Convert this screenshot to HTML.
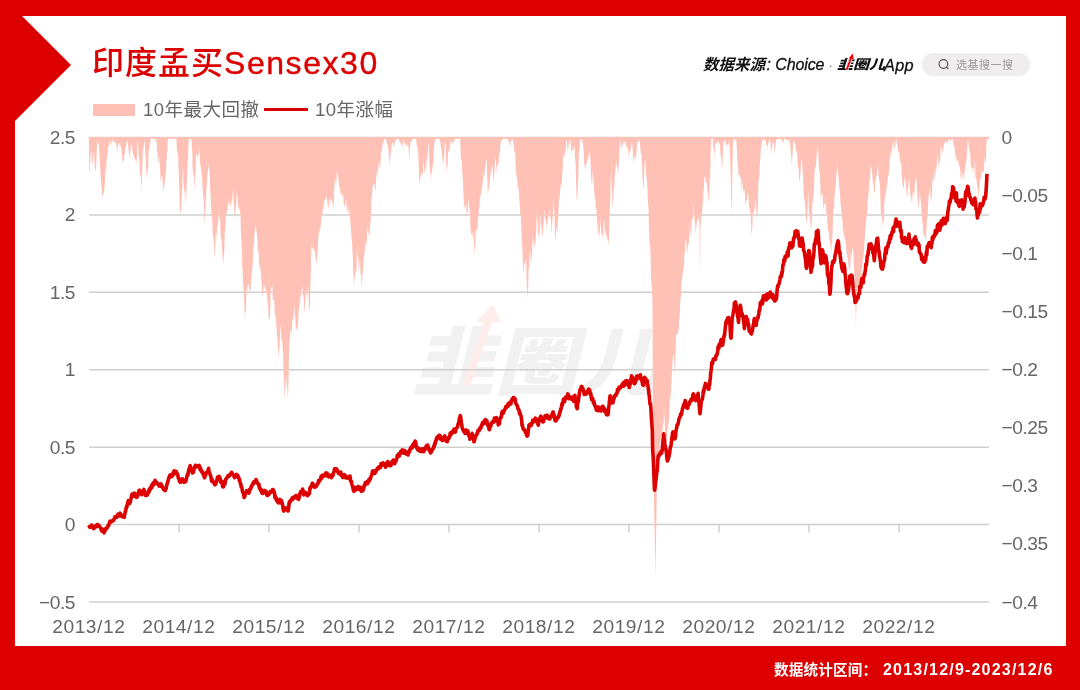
<!DOCTYPE html>
<html lang="zh">
<head>
<meta charset="utf-8">
<title>印度孟买Sensex30</title>
<style>
html,body{margin:0;padding:0;}
body{width:1080px;height:690px;background:#DC0000;position:relative;overflow:hidden;font-family:"Liberation Sans","Noto Sans CJK SC",sans-serif;}
.panel{position:absolute;left:15.2px;top:15.6px;width:1050.9px;height:630.9px;background:#fff;}
.tri{position:absolute;left:15px;top:9px;width:0;height:0;border-top:56px solid transparent;border-bottom:56px solid transparent;border-left:56px solid #DC0000;}
.title{position:absolute;left:92px;top:41px;font-size:32px;line-height:44px;color:#DC0000;white-space:nowrap;letter-spacing:1px;font-weight:500;}
.title span{letter-spacing:1.55px;-webkit-text-stroke:0.4px #DC0000;}
.legend{position:absolute;left:93px;top:97px;height:26px;line-height:26px;font-size:18.5px;color:#666;white-space:nowrap;letter-spacing:0.5px;}
.legend .sw{position:absolute;left:0;top:7px;width:42px;height:12px;background:#FFC0B6;}
.legend .t1{position:absolute;left:50px;top:0;}
.legend .ln{position:absolute;left:171px;top:11px;width:44px;height:3px;background:#DC0000;}
.legend .t2{position:absolute;left:222px;top:0;}
.src{position:absolute;left:703px;top:53px;height:24px;line-height:24px;font-size:15.5px;font-style:italic;color:#111;white-space:nowrap;}
.src span{position:absolute;top:0;}
.src .a{left:0;font-weight:bold;}
.src .b{left:63.5px;-webkit-text-stroke:0.3px #111;font-size:16px;letter-spacing:-0.1px;}
.src .c{left:125px;color:#888;}
.src .d{left:133.5px;font-weight:900;font-size:13px;transform:scale(1.23,1);transform-origin:0 70%;}
.src .e{left:181px;-webkit-text-stroke:0.3px #111;font-size:16.3px;letter-spacing:0.3px;}
.src svg{position:absolute;left:140px;top:-1px;}
.pill{position:absolute;left:922px;top:53.3px;width:107.8px;height:23.2px;border-radius:12px;background:#EFEDED;}
.pill .tx{position:absolute;left:34px;top:1.2px;line-height:23.2px;font-size:11px;color:#9a9a9a;white-space:nowrap;letter-spacing:0.5px;}
.pill svg{position:absolute;left:15px;top:4.5px;}
.foot{position:absolute;left:774px;top:658.6px;width:280px;height:22px;line-height:22px;font-weight:bold;color:#fff;white-space:nowrap;}
.foot .k{position:absolute;left:0;top:0;font-size:14.6px;letter-spacing:0.15px;}
.foot .n{position:absolute;right:0.5px;top:0;font-size:16px;letter-spacing:1.2px;}
svg.chart{position:absolute;left:0;top:0;}
.ax{font-family:"Liberation Sans",sans-serif;font-size:19.2px;fill:#666;letter-spacing:-0.5px;}
.axx{letter-spacing:0.55px;}
.wm{font-family:"Liberation Sans","Noto Sans CJK SC",sans-serif;font-weight:900;font-size:74px;fill:#F1F1F1;}
</style>
</head>
<body>
<div class="panel"></div>
<div class="tri"></div>
<div class="title">印度孟买<span>Sensex30</span></div>
<div class="legend"><span class="sw"></span><span class="t1">10年最大回撤</span><span class="ln"></span><span class="t2">10年涨幅</span></div>
<div class="src"><span class="a">数据来源</span><span class="b">: Choice</span><span class="c">·</span><span class="d">韭圈儿</span><span class="e">App</span><svg width="12" height="20" viewBox="0 0 12 20"><path d="M3.7 17.6 L8.4 5.2" stroke="#fff" stroke-width="3.4" fill="none"/><path d="M3.7 17.6 L8.3 5.5" stroke="#F0000A" stroke-width="1.9" fill="none"/><path d="M5.8 6.2 L9.7 1.6 L10.8 7.4 Z" fill="#F0000A"/></svg></div>
<div class="pill"><svg width="14" height="14" viewBox="0 0 14 14"><circle cx="6.4" cy="5.95" r="4.35" fill="none" stroke="#555" stroke-width="1.15"/><line x1="9.6" y1="9.2" x2="11" y2="10.6" stroke="#555" stroke-width="1.15" stroke-linecap="round"/></svg><span class="tx">选基搜一搜</span></div>
<svg class="chart" width="1080" height="690" viewBox="0 0 1080 690">
<g transform="translate(411,392.5) skewX(-14)"><text x="0" y="-4" class="wm" textLength="248" lengthAdjust="spacingAndGlyphs">韭圈儿</text></g>
<path d="M462 386 L470 386 L492 322 L500 322 L493 304 L476 322 L484 322 Z" fill="#FFEDEB"/>
<line x1="89" y1="137.5" x2="989" y2="137.5" stroke="#CFCFCF" stroke-width="1.5"/>
<line x1="89" y1="214.91666666666669" x2="989" y2="214.91666666666669" stroke="#CFCFCF" stroke-width="1.5"/>
<line x1="89" y1="292.33333333333337" x2="989" y2="292.33333333333337" stroke="#CFCFCF" stroke-width="1.5"/>
<line x1="89" y1="369.75" x2="989" y2="369.75" stroke="#CFCFCF" stroke-width="1.5"/>
<line x1="89" y1="447.1666666666667" x2="989" y2="447.1666666666667" stroke="#CFCFCF" stroke-width="1.5"/>
<line x1="89" y1="524.5833333333333" x2="989" y2="524.5833333333333" stroke="#CFCFCF" stroke-width="1.5"/>
<line x1="89" y1="602.0" x2="989" y2="602.0" stroke="#CFCFCF" stroke-width="1.5"/>
<line x1="179" y1="524.6" x2="179" y2="532.4" stroke="#CFCFCF" stroke-width="1.5"/>
<line x1="269" y1="524.6" x2="269" y2="532.4" stroke="#CFCFCF" stroke-width="1.5"/>
<line x1="359" y1="524.6" x2="359" y2="532.4" stroke="#CFCFCF" stroke-width="1.5"/>
<line x1="449" y1="524.6" x2="449" y2="532.4" stroke="#CFCFCF" stroke-width="1.5"/>
<line x1="539" y1="524.6" x2="539" y2="532.4" stroke="#CFCFCF" stroke-width="1.5"/>
<line x1="629" y1="524.6" x2="629" y2="532.4" stroke="#CFCFCF" stroke-width="1.5"/>
<line x1="719" y1="524.6" x2="719" y2="532.4" stroke="#CFCFCF" stroke-width="1.5"/>
<line x1="809" y1="524.6" x2="809" y2="532.4" stroke="#CFCFCF" stroke-width="1.5"/>
<line x1="899" y1="524.6" x2="899" y2="532.4" stroke="#CFCFCF" stroke-width="1.5"/>

<path d="M89.0,137.0 L88.8,137.0 L88.8,137.0 L89.3,167.3 L89.5,172.5 L89.9,172.3 L90.5,157.9 L91.1,147.0 L91.2,152.5 L91.7,156.2 L92.3,163.7 L92.5,162.5 L92.9,165.3 L93.5,150.1 L93.8,155.0 L94.1,152.0 L94.7,167.1 L95.3,171.1 L95.5,170.0 L95.9,170.2 L96.5,157.4 L97.0,145.0 L97.1,144.3 L97.7,142.3 L98.3,144.9 L98.8,140.0 L98.9,143.6 L99.5,153.7 L100.0,167.5 L100.1,163.7 L100.7,177.4 L101.3,185.1 L101.9,190.2 L102.5,198.8 L102.5,198.1 L103.1,195.2 L103.7,192.8 L104.3,190.4 L104.9,181.4 L105.0,180.0 L105.5,166.1 L106.1,173.2 L106.7,157.2 L107.3,158.0 L107.5,157.5 L107.9,146.2 L108.5,148.3 L109.1,141.4 L109.5,140.0 L109.7,140.6 L110.3,146.2 L110.9,142.0 L111.2,142.5 L111.5,143.4 L112.1,139.0 L112.5,140.0 L112.7,139.9 L113.3,141.8 L113.9,141.3 L114.5,142.7 L115.0,142.5 L115.1,143.1 L115.7,141.7 L116.3,147.7 L116.9,144.4 L117.0,147.5 L117.5,151.9 L118.1,142.9 L118.7,143.8 L118.8,142.5 L119.3,143.7 L119.9,147.6 L120.5,144.1 L121.1,151.0 L121.2,147.5 L121.7,149.9 L122.3,160.4 L122.9,160.8 L123.5,162.0 L123.8,162.5 L124.1,154.6 L124.7,156.3 L125.3,148.1 L125.5,145.0 L125.9,147.9 L126.5,141.7 L127.1,141.6 L127.5,140.0 L127.7,142.8 L128.3,147.3 L128.9,151.9 L129.5,156.3 L130.0,158.8 L130.1,154.4 L130.7,146.7 L131.3,144.9 L131.8,142.5 L131.9,144.9 L132.5,151.6 L133.1,153.9 L133.7,157.8 L133.8,152.5 L134.3,158.2 L134.9,159.6 L135.5,158.8 L136.1,163.6 L136.2,160.0 L136.7,163.2 L137.3,146.2 L137.9,139.7 L138.0,140.0 L138.5,155.0 L139.1,157.1 L139.7,169.1 L140.3,176.9 L140.9,175.2 L141.2,185.0 L141.5,191.2 L142.1,175.9 L142.7,155.9 L143.0,150.0 L143.3,150.5 L143.9,144.0 L144.5,140.0 L144.5,139.5 L145.1,148.9 L145.7,160.0 L146.3,172.4 L146.9,179.1 L147.0,176.2 L147.5,169.7 L148.1,168.6 L148.7,150.6 L149.3,149.7 L149.5,145.0 L149.9,145.9 L150.5,140.8 L151.1,137.8 L151.2,138.8 L151.7,138.2 L152.3,138.9 L152.9,139.1 L153.5,139.7 L154.1,138.1 L154.7,138.8 L155.0,138.8 L155.3,141.1 L155.9,142.7 L156.5,138.3 L157.1,151.7 L157.5,150.0 L157.7,163.3 L158.3,161.0 L158.9,155.6 L159.5,162.3 L160.0,167.5 L160.1,169.2 L160.7,182.9 L161.3,176.0 L161.9,175.9 L162.5,177.5 L162.5,185.6 L163.1,180.7 L163.7,193.8 L164.3,184.5 L164.5,188.8 L164.9,179.6 L165.5,176.6 L166.1,171.1 L166.2,162.5 L166.7,159.3 L167.3,149.6 L167.9,138.3 L168.0,140.0 L168.5,139.0 L169.1,138.8 L169.7,138.5 L170.0,138.8 L170.3,139.1 L170.9,138.5 L171.5,139.2 L172.1,138.8 L172.7,138.5 L173.3,138.8 L173.9,139.0 L174.5,139.3 L175.1,138.5 L175.7,138.6 L176.2,138.8 L176.3,138.3 L176.9,148.4 L177.5,155.2 L178.0,152.5 L178.1,156.3 L178.7,173.5 L179.3,188.5 L179.9,214.3 L180.0,215.0 L180.5,209.8 L181.1,213.0 L181.7,196.5 L182.0,192.5 L182.3,183.0 L182.9,165.1 L183.2,172.5 L183.5,185.1 L184.1,190.2 L184.7,192.3 L185.0,205.0 L185.3,201.1 L185.9,183.9 L186.5,201.1 L187.0,177.5 L187.1,179.9 L187.7,164.3 L188.3,147.8 L188.8,140.0 L188.9,137.7 L189.5,139.5 L190.1,138.0 L190.7,139.4 L191.2,138.8 L191.3,137.8 L191.9,145.3 L192.5,157.5 L192.5,164.4 L193.1,176.3 L193.7,171.9 L194.3,179.9 L194.5,190.0 L194.9,185.4 L195.5,173.3 L196.1,152.1 L196.2,155.0 L196.7,153.7 L197.3,156.2 L197.9,156.3 L198.0,162.5 L198.5,152.7 L199.1,154.5 L199.5,145.0 L199.7,151.4 L200.3,167.4 L200.9,165.3 L201.2,170.0 L201.5,173.6 L202.1,177.9 L202.7,190.8 L203.0,195.0 L203.3,194.9 L203.9,203.5 L204.5,222.5 L204.5,225.0 L205.1,216.7 L205.7,201.7 L206.2,187.5 L206.3,193.3 L206.9,182.5 L207.5,172.2 L208.1,170.8 L208.7,163.1 L208.8,165.0 L209.3,170.6 L209.9,178.8 L210.5,197.5 L210.5,190.8 L211.1,206.4 L211.7,215.4 L212.3,220.6 L212.5,225.0 L212.9,237.3 L213.5,238.0 L214.1,246.9 L214.7,257.0 L215.0,253.8 L215.3,245.5 L215.9,232.6 L216.5,239.1 L217.0,230.0 L217.1,224.8 L217.7,228.0 L218.3,216.3 L218.8,210.0 L218.9,217.3 L219.5,223.0 L220.1,215.6 L220.5,230.0 L220.7,237.0 L221.3,238.1 L221.9,245.8 L222.5,255.5 L223.0,263.8 L223.1,265.4 L223.7,257.4 L224.3,249.4 L224.9,227.4 L225.0,235.0 L225.5,225.9 L226.1,210.2 L226.7,214.8 L227.0,212.5 L227.3,213.4 L227.9,203.0 L228.5,204.4 L229.1,200.8 L229.5,197.5 L229.7,205.5 L230.3,203.6 L230.8,212.5 L230.9,206.0 L231.5,199.4 L232.1,204.9 L232.7,194.6 L233.0,186.2 L233.3,191.5 L233.9,203.4 L234.5,213.0 L235.0,220.0 L235.1,219.1 L235.7,209.6 L236.3,201.5 L236.9,189.3 L237.0,195.0 L237.5,194.9 L238.1,209.8 L238.7,207.7 L238.8,205.0 L239.3,208.8 L239.9,210.8 L240.5,215.0 L240.5,216.7 L241.1,234.6 L241.7,246.1 L242.3,266.9 L242.5,270.0 L242.9,280.2 L243.5,287.3 L243.8,295.0 L244.1,299.9 L244.7,312.0 L245.0,322.5 L245.3,311.9 L245.9,312.7 L246.5,287.4 L247.0,292.5 L247.1,290.5 L247.7,286.2 L248.3,283.6 L248.8,285.0 L248.9,286.0 L249.5,292.6 L250.1,288.9 L250.7,289.3 L250.8,290.0 L251.3,278.4 L251.9,272.2 L252.5,265.0 L252.5,268.9 L253.1,254.7 L253.7,243.2 L254.2,242.5 L254.3,235.4 L254.9,231.2 L255.5,224.8 L256.1,232.3 L256.2,226.0 L256.7,233.4 L257.3,237.1 L257.5,240.0 L257.9,253.3 L258.5,250.7 L259.0,260.0 L259.1,265.0 L259.7,270.3 L260.3,263.5 L260.5,272.5 L260.9,269.2 L261.2,280.0 L261.5,278.7 L262.1,294.4 L262.5,293.8 L262.7,299.1 L263.3,283.9 L263.9,292.6 L264.5,285.0 L264.5,283.4 L265.1,286.7 L265.7,289.4 L266.2,295.0 L266.3,294.3 L266.9,292.2 L267.5,301.7 L268.1,305.9 L268.7,320.0 L268.8,317.5 L269.3,321.1 L269.9,317.4 L270.5,297.5 L270.5,295.6 L271.1,285.6 L271.7,289.2 L272.3,283.6 L272.5,287.5 L272.9,301.4 L273.5,299.5 L274.1,298.3 L274.5,305.0 L274.7,312.5 L275.3,317.4 L275.9,313.4 L276.2,325.0 L276.5,326.2 L277.1,335.5 L277.7,344.6 L278.3,353.0 L278.8,357.5 L278.9,352.8 L279.5,346.4 L280.1,333.6 L280.7,323.0 L280.8,327.5 L281.3,340.2 L281.9,339.6 L282.5,342.5 L282.5,346.1 L283.1,352.8 L283.7,376.8 L284.3,398.6 L284.5,398.8 L284.9,386.2 L285.5,390.0 L286.1,374.4 L286.2,375.0 L286.7,383.4 L287.3,388.5 L287.9,397.9 L288.0,397.5 L288.5,381.5 L289.1,349.5 L289.5,337.5 L289.7,344.6 L290.3,331.0 L290.9,328.5 L291.5,334.9 L292.0,330.0 L292.1,323.0 L292.7,319.6 L293.3,319.1 L293.8,310.0 L293.9,316.9 L294.5,304.6 L295.1,318.5 L295.5,317.5 L295.7,328.8 L296.3,329.8 L296.9,327.2 L297.5,332.5 L297.6,328.8 L298.2,322.1 L298.8,309.5 L299.4,305.7 L299.5,305.0 L300.0,300.2 L300.6,295.3 L301.2,296.8 L301.2,290.0 L301.8,290.3 L302.4,285.9 L303.0,300.1 L303.0,295.0 L303.6,296.5 L304.2,307.1 L304.5,313.8 L304.8,310.0 L305.4,301.7 L306.0,291.1 L306.2,292.5 L306.6,290.4 L307.2,300.8 L307.8,285.2 L308.0,287.5 L308.4,292.4 L309.0,308.2 L309.5,311.2 L309.6,313.4 L310.2,294.8 L310.5,280.0 L310.8,276.0 L311.2,255.0 L311.4,244.7 L312.0,247.2 L312.6,249.1 L313.2,248.0 L313.8,242.5 L313.8,249.0 L314.4,250.2 L315.0,252.1 L315.6,258.9 L316.2,263.0 L316.2,265.0 L316.8,260.2 L317.4,255.2 L318.0,242.9 L318.6,233.3 L318.8,235.0 L319.2,227.5 L319.8,232.5 L320.4,228.6 L321.0,222.4 L321.2,215.0 L321.6,218.1 L322.2,215.6 L322.8,209.0 L323.4,209.9 L323.8,205.0 L324.0,199.1 L324.6,201.6 L325.2,197.1 L325.8,202.6 L326.2,197.5 L326.4,194.9 L327.0,199.1 L327.6,203.4 L328.2,210.0 L328.8,205.0 L328.8,201.0 L329.4,199.1 L330.0,206.7 L330.6,195.9 L331.2,202.5 L331.2,200.0 L331.8,200.0 L332.4,205.8 L333.0,200.6 L333.0,210.0 L333.6,205.3 L334.2,190.2 L334.8,179.3 L335.0,180.0 L335.4,186.9 L336.0,174.1 L336.2,167.5 L336.6,186.5 L337.2,174.0 L337.8,173.3 L338.4,178.5 L338.8,180.0 L339.0,189.2 L339.6,184.7 L340.2,190.7 L340.8,194.6 L341.2,195.0 L341.4,190.7 L342.0,197.5 L342.6,196.0 L343.2,193.8 L343.8,206.0 L344.4,206.6 L345.0,205.2 L345.0,205.0 L345.6,202.1 L346.2,198.4 L346.8,212.7 L347.4,211.6 L347.5,212.5 L348.0,205.0 L348.6,214.3 L349.2,208.2 L349.8,216.9 L350.0,217.5 L350.4,222.6 L351.0,231.1 L351.6,238.0 L352.0,242.5 L352.2,247.2 L352.8,256.1 L353.4,275.3 L353.8,287.5 L354.0,282.9 L354.6,278.3 L355.2,274.9 L355.5,270.0 L355.8,271.2 L356.4,271.8 L357.0,246.3 L357.5,255.0 L357.6,257.2 L358.2,256.4 L358.8,271.1 L359.4,266.6 L359.5,262.5 L360.0,258.5 L360.6,274.5 L361.2,275.6 L361.8,288.8 L362.0,286.2 L362.4,275.2 L363.0,270.1 L363.6,260.1 L363.8,257.5 L364.2,254.7 L364.8,248.9 L365.4,239.2 L365.5,247.5 L366.0,245.9 L366.6,243.3 L367.2,232.7 L367.5,230.0 L367.8,225.5 L368.4,233.1 L369.0,236.5 L369.5,235.0 L369.6,233.3 L370.2,223.8 L370.8,220.6 L371.2,205.0 L371.4,198.5 L372.0,196.2 L372.6,184.3 L373.0,190.0 L373.2,186.3 L373.8,185.4 L374.4,183.5 L375.0,184.1 L375.0,187.5 L375.6,191.7 L376.2,176.5 L376.8,171.6 L377.0,170.0 L377.4,180.7 L378.0,169.0 L378.6,160.2 L378.8,168.8 L379.2,169.3 L379.8,160.5 L380.4,171.2 L380.5,162.5 L381.0,152.9 L381.6,151.7 L382.2,142.6 L382.5,147.5 L382.8,146.7 L383.4,141.3 L384.0,141.1 L384.5,138.8 L384.6,138.5 L385.2,138.7 L385.8,140.5 L386.2,140.0 L386.4,141.8 L387.0,144.2 L387.6,144.1 L388.0,150.0 L388.2,145.4 L388.8,154.3 L389.4,167.4 L390.0,155.5 L390.5,160.0 L390.6,155.6 L391.2,150.8 L391.8,144.3 L392.4,141.4 L392.5,142.5 L393.0,142.6 L393.6,147.3 L394.2,144.6 L394.5,145.0 L394.8,143.0 L395.4,139.4 L396.0,141.2 L396.2,140.0 L396.6,139.8 L397.2,138.4 L397.8,138.4 L398.4,138.9 L398.8,138.8 L399.0,140.1 L399.6,141.6 L400.2,142.6 L400.8,143.0 L401.2,145.0 L401.4,145.7 L402.0,143.9 L402.6,147.7 L403.2,140.1 L403.8,141.2 L403.8,140.7 L404.4,144.0 L405.0,141.9 L405.6,146.1 L406.2,143.5 L406.2,143.8 L406.8,146.2 L407.4,146.7 L408.0,143.9 L408.6,148.1 L408.8,153.8 L409.2,161.9 L409.8,148.8 L410.4,143.5 L410.5,141.2 L411.0,141.9 L411.6,140.5 L412.2,140.0 L412.5,138.8 L412.8,138.6 L413.4,138.6 L414.0,139.4 L414.6,138.5 L415.2,137.9 L415.5,138.8 L415.8,139.6 L416.4,141.4 L417.0,146.9 L417.5,147.5 L417.6,145.4 L418.2,153.6 L418.8,167.7 L419.4,187.6 L419.5,182.5 L420.0,179.7 L420.6,177.3 L421.2,173.1 L421.2,172.5 L421.8,172.5 L422.4,174.0 L423.0,174.6 L423.0,167.5 L423.6,159.6 L424.2,175.0 L424.8,168.6 L425.0,168.8 L425.4,164.7 L426.0,174.2 L426.6,157.2 L427.0,155.0 L427.2,163.8 L427.8,154.7 L428.4,142.9 L428.8,143.8 L429.0,150.3 L429.6,165.7 L430.2,175.1 L430.5,183.8 L430.8,170.1 L431.4,175.1 L432.0,171.0 L432.5,167.5 L432.6,161.3 L433.2,168.5 L433.8,150.7 L434.4,143.3 L434.5,142.5 L435.0,141.1 L435.6,139.3 L436.2,138.4 L436.2,138.8 L436.8,138.8 L437.4,138.9 L438.0,138.4 L438.6,138.7 L439.2,137.9 L439.5,138.8 L439.8,141.0 L440.4,142.3 L441.0,148.9 L441.2,150.0 L441.6,148.0 L442.2,155.1 L442.8,163.9 L443.0,165.0 L443.4,154.6 L444.0,165.5 L444.6,145.5 L445.0,140.0 L445.2,142.0 L445.8,147.2 L446.4,167.4 L447.0,175.0 L447.0,168.8 L447.6,165.1 L448.2,151.2 L448.8,152.5 L448.8,150.0 L449.4,151.7 L450.0,144.1 L450.5,142.5 L450.6,140.2 L451.2,140.6 L451.8,142.1 L452.4,144.9 L452.5,145.0 L453.0,142.1 L453.6,141.7 L454.2,142.7 L454.5,138.8 L454.8,139.9 L455.4,138.1 L456.0,139.0 L456.6,138.8 L457.2,138.7 L457.8,139.4 L458.4,138.5 L459.0,138.5 L459.6,138.5 L460.0,138.8 L460.2,140.8 L460.8,155.3 L461.4,162.0 L462.0,160.1 L462.0,167.5 L462.6,176.3 L463.2,186.5 L463.8,202.5 L463.8,206.6 L464.4,205.3 L465.0,210.4 L465.5,207.5 L465.6,207.5 L466.2,201.7 L466.8,217.0 L467.0,216.2 L467.4,214.1 L468.0,210.0 L468.6,195.3 L468.8,200.0 L469.2,206.7 L469.8,212.3 L470.4,221.7 L470.5,227.5 L471.0,232.1 L471.6,235.8 L472.2,233.4 L472.5,240.0 L472.8,232.8 L473.4,232.4 L474.0,245.3 L474.5,251.2 L474.6,256.4 L475.2,244.9 L475.8,228.4 L476.2,235.0 L476.4,229.5 L477.0,229.1 L477.6,228.5 L478.0,215.0 L478.2,219.7 L478.8,211.2 L479.4,205.9 L480.0,195.1 L480.0,200.0 L480.6,195.0 L481.2,192.6 L481.8,187.4 L482.0,190.0 L482.4,186.8 L483.0,178.5 L483.6,176.2 L483.8,172.5 L484.2,177.7 L484.8,171.2 L485.4,166.6 L486.0,160.3 L486.2,160.0 L486.6,158.4 L487.2,177.4 L487.8,192.7 L488.0,195.0 L488.4,186.9 L489.0,193.0 L489.6,179.8 L490.0,177.5 L490.2,178.6 L490.8,172.1 L491.4,164.5 L492.0,178.1 L492.0,167.5 L492.6,165.6 L493.2,180.3 L493.8,180.0 L493.8,177.2 L494.4,173.7 L495.0,160.5 L495.5,157.5 L495.6,155.7 L496.2,165.4 L496.8,173.5 L497.4,162.5 L497.5,167.5 L498.0,164.2 L498.6,164.4 L499.2,152.0 L499.5,152.5 L499.8,154.2 L500.4,143.8 L501.0,143.3 L501.2,140.0 L501.6,140.2 L502.2,140.4 L502.8,139.2 L503.0,138.8 L503.4,138.0 L504.0,139.2 L504.6,138.1 L505.0,138.8 L505.2,139.2 L505.8,139.7 L506.4,139.1 L507.0,138.4 L507.5,138.8 L507.6,139.7 L508.2,141.0 L508.8,140.1 L509.4,143.6 L509.5,145.0 L510.0,147.4 L510.6,141.8 L511.2,141.0 L511.8,139.1 L512.0,138.8 L512.4,138.2 L513.0,141.2 L513.6,145.2 L513.8,145.0 L514.2,149.9 L514.8,154.1 L515.4,150.3 L515.5,162.5 L516.0,172.5 L516.6,175.3 L517.2,182.1 L517.5,180.0 L517.8,189.3 L518.4,187.1 L519.0,192.9 L519.6,204.1 L520.0,207.5 L520.2,218.5 L520.8,212.2 L521.4,230.0 L522.0,238.0 L522.0,242.5 L522.6,254.7 L523.2,269.5 L523.8,272.5 L523.8,271.0 L524.4,262.5 L525.0,265.2 L525.6,259.8 L525.8,260.0 L526.2,261.1 L526.8,286.6 L527.4,292.8 L527.5,298.8 L528.0,292.3 L528.6,269.2 L529.2,268.1 L529.5,255.0 L529.8,248.5 L530.4,262.7 L531.0,250.1 L531.2,260.0 L531.6,263.5 L532.2,247.8 L532.8,235.1 L533.0,240.0 L533.4,240.6 L534.0,246.4 L534.6,242.8 L535.0,250.0 L535.2,245.1 L535.8,239.2 L536.4,227.2 L537.0,203.0 L537.0,217.5 L537.6,221.6 L538.2,232.8 L538.8,237.5 L538.8,239.0 L539.4,234.0 L540.0,216.9 L540.5,212.5 L540.6,225.8 L541.2,223.8 L541.8,228.1 L542.4,238.7 L542.5,235.0 L543.0,234.1 L543.6,222.4 L544.2,211.3 L544.5,210.0 L544.8,218.0 L545.4,221.8 L546.0,217.1 L546.2,230.0 L546.6,222.3 L547.2,225.9 L547.8,219.8 L548.0,217.5 L548.4,217.1 L549.0,216.0 L549.6,210.5 L550.0,207.5 L550.2,218.2 L550.8,218.3 L551.4,230.3 L551.5,235.0 L552.0,227.6 L552.6,217.7 L553.2,205.9 L553.5,195.0 L553.8,208.1 L554.4,211.7 L555.0,233.5 L555.5,240.0 L555.6,241.9 L556.2,229.1 L556.8,228.4 L557.4,234.2 L557.5,222.5 L558.0,221.9 L558.6,209.7 L559.2,194.0 L559.5,202.5 L559.8,195.6 L560.4,188.1 L561.0,184.2 L561.2,180.0 L561.6,188.6 L562.2,174.7 L562.8,166.6 L563.0,162.5 L563.4,156.7 L564.0,153.4 L564.5,157.5 L564.6,156.0 L565.2,148.7 L565.8,153.6 L566.2,140.0 L566.4,140.1 L567.0,142.5 L567.6,151.6 L568.0,150.0 L568.2,149.6 L568.8,142.2 L569.4,146.1 L570.0,139.9 L570.0,140.0 L570.6,140.4 L571.2,148.4 L571.8,153.4 L572.0,152.5 L572.4,149.3 L573.0,151.3 L573.6,148.5 L573.8,145.0 L574.2,146.3 L574.8,148.7 L575.0,162.5 L575.4,157.1 L576.0,179.7 L576.6,197.7 L577.0,200.0 L577.2,201.2 L577.8,187.7 L578.4,174.6 L578.8,155.0 L579.0,152.7 L579.6,148.6 L580.0,140.0 L580.2,138.3 L580.8,140.2 L581.4,139.5 L582.0,138.7 L582.0,138.8 L582.6,142.8 L583.2,144.5 L583.8,155.0 L583.8,155.7 L584.4,166.5 L585.0,163.5 L585.5,170.0 L585.6,172.4 L586.2,163.4 L586.8,165.0 L587.4,155.7 L587.5,160.0 L588.0,159.9 L588.6,154.3 L589.2,154.4 L589.5,151.2 L589.8,152.3 L590.4,159.3 L591.0,173.4 L591.2,180.0 L591.6,183.5 L592.2,182.8 L592.8,169.8 L593.0,170.0 L593.4,179.7 L594.0,189.2 L594.6,197.2 L595.0,202.5 L595.2,195.9 L595.8,209.7 L596.4,207.8 L597.0,223.0 L597.0,217.5 L597.6,227.7 L598.2,233.7 L598.8,237.5 L598.8,224.8 L599.4,235.5 L600.0,230.7 L600.5,222.5 L600.6,216.5 L601.2,233.0 L601.8,233.8 L602.4,237.8 L602.5,240.0 L603.0,231.9 L603.6,224.4 L604.2,221.3 L604.5,220.0 L604.8,237.6 L605.4,228.5 L606.0,233.7 L606.5,237.5 L606.6,234.5 L607.2,237.7 L607.8,241.0 L608.4,242.3 L608.5,247.5 L609.0,238.4 L609.6,214.6 L610.0,202.5 L610.2,202.9 L610.8,177.2 L611.2,170.0 L611.4,177.6 L612.0,190.9 L612.5,207.5 L612.6,210.1 L613.2,198.0 L613.8,185.9 L614.4,188.1 L614.5,180.0 L615.0,173.3 L615.6,168.8 L616.2,159.1 L616.2,162.5 L616.8,166.7 L617.4,167.6 L618.0,174.8 L618.0,173.8 L618.6,168.3 L619.2,155.2 L619.8,143.8 L620.0,147.5 L620.0,138.8 L620.4,140.8 L621.0,144.8 L621.6,147.7 L622.0,147.5 L622.2,142.9 L622.8,146.5 L623.4,143.5 L623.8,141.2 L624.0,141.8 L624.6,142.6 L625.2,141.6 L625.5,142.5 L625.8,143.9 L626.4,148.6 L627.0,146.0 L627.5,150.0 L627.6,143.4 L628.2,151.9 L628.8,155.7 L629.4,147.7 L629.5,157.5 L630.0,150.3 L630.6,150.9 L631.2,143.0 L631.2,142.5 L631.8,145.6 L632.4,143.5 L633.0,156.7 L633.0,152.5 L633.6,164.0 L634.2,157.3 L634.8,157.6 L635.0,162.5 L635.4,153.6 L636.0,158.6 L636.6,149.4 L637.0,145.0 L637.2,142.1 L637.8,141.7 L638.0,138.8 L638.4,140.6 L639.0,142.7 L639.6,139.4 L640.0,145.0 L640.2,146.0 L640.8,154.7 L641.4,150.7 L642.0,166.7 L642.0,162.5 L642.6,178.3 L643.2,185.7 L643.8,190.0 L643.8,186.4 L644.4,168.5 L645.0,158.7 L645.0,152.5 L645.6,165.0 L646.2,174.5 L646.8,182.6 L647.0,180.0 L647.4,188.5 L648.0,202.4 L648.6,210.6 L648.8,225.0 L649.2,234.5 L649.8,250.4 L650.0,242.5 L650.4,252.5 L651.0,270.5 L651.2,280.0 L651.6,285.9 L652.2,296.2 L652.5,302.0 L652.8,382.3 L652.8,400.0 L653.4,445.1 L654.0,494.7 L654.0,500.0 L654.6,530.3 L655.2,558.3 L655.5,577.0 L655.8,560.0 L656.4,518.3 L657.0,475.5 L657.0,470.0 L657.6,465.9 L658.2,460.1 L658.8,451.3 L659.0,450.0 L659.4,447.9 L660.0,444.5 L660.6,440.8 L661.0,440.0 L661.2,452.2 L661.8,427.1 L662.4,434.7 L663.0,422.1 L663.0,428.0 L663.6,422.0 L664.0,405.0 L664.2,415.2 L664.8,421.2 L665.0,430.0 L665.4,441.4 L666.0,433.2 L666.6,441.2 L667.0,436.0 L667.2,436.4 L667.8,427.2 L668.4,423.3 L669.0,419.8 L669.0,420.0 L669.6,407.7 L670.0,392.0 L670.2,392.6 L670.8,403.8 L671.0,392.0 L671.4,384.6 L672.0,372.1 L672.6,359.7 L673.0,355.0 L673.2,352.6 L673.8,355.3 L674.4,363.6 L675.0,379.0 L675.0,375.0 L675.6,353.3 L676.0,335.0 L676.2,333.6 L676.8,334.3 L677.4,335.8 L678.0,331.6 L678.6,330.4 L679.0,325.0 L679.2,320.0 L679.8,312.4 L680.4,300.9 L681.0,295.3 L681.0,295.0 L681.6,282.7 L682.0,280.0 L682.2,277.0 L682.8,273.6 L683.4,268.9 L683.8,267.0 L684.0,262.6 L684.6,252.2 L685.2,251.9 L685.5,240.0 L685.8,240.2 L686.4,241.3 L687.0,251.8 L687.5,255.0 L687.6,249.1 L688.2,243.8 L688.8,244.2 L689.4,230.0 L689.5,237.0 L690.0,219.3 L690.6,234.8 L691.2,236.4 L691.5,230.0 L691.8,219.4 L692.4,217.9 L693.0,219.8 L693.5,212.0 L693.6,202.6 L694.2,215.1 L694.8,220.4 L695.4,232.3 L695.5,235.0 L696.0,221.1 L696.6,230.0 L697.2,219.4 L697.5,217.0 L697.8,220.1 L698.4,220.9 L699.0,215.8 L699.5,230.0 L699.6,234.2 L700.0,280.0 L700.2,256.8 L700.5,225.0 L700.8,223.4 L701.4,215.1 L702.0,213.7 L702.0,215.0 L702.6,204.5 L703.2,199.1 L703.8,185.0 L703.8,188.8 L704.4,176.5 L705.0,178.1 L705.5,175.0 L705.6,182.7 L706.2,183.0 L706.8,182.0 L707.4,190.1 L707.5,192.0 L708.0,192.7 L708.6,202.3 L709.0,200.0 L709.2,195.7 L709.8,179.4 L710.4,170.6 L710.5,155.0 L711.0,142.3 L711.5,138.0 L711.6,137.7 L712.2,138.1 L712.8,139.0 L713.0,142.5 L713.4,148.0 L714.0,151.8 L714.5,155.0 L714.6,162.8 L715.2,140.9 L715.8,143.2 L716.2,142.5 L716.4,145.1 L717.0,143.2 L717.6,141.8 L718.0,140.0 L718.2,141.4 L718.8,141.9 L719.4,143.4 L720.0,145.0 L720.0,145.0 L720.6,155.4 L721.2,157.1 L721.8,166.3 L722.0,167.5 L722.4,168.9 L723.0,146.0 L723.5,142.5 L723.6,141.0 L724.2,142.3 L724.8,140.1 L725.0,140.0 L725.4,140.7 L726.0,146.4 L726.6,144.9 L727.0,145.0 L727.2,143.4 L727.8,145.2 L728.4,144.9 L728.8,140.0 L729.0,140.3 L729.6,146.6 L730.0,155.0 L730.2,161.3 L730.8,180.6 L731.4,217.6 L731.5,212.5 L732.0,194.1 L732.6,161.5 L733.0,142.5 L733.2,143.0 L733.8,139.6 L734.4,138.7 L734.5,138.8 L735.0,139.1 L735.6,141.6 L736.2,137.6 L736.2,140.0 L736.8,147.8 L737.4,160.9 L738.0,165.6 L738.0,162.5 L738.6,176.2 L739.2,173.4 L739.8,176.4 L740.0,177.5 L740.4,178.2 L741.0,176.8 L741.6,191.5 L742.0,185.0 L742.2,179.9 L742.8,188.7 L743.4,190.1 L743.8,195.0 L744.0,192.2 L744.6,188.5 L745.2,201.1 L745.5,205.0 L745.8,204.1 L746.4,200.4 L747.0,200.2 L747.5,192.5 L747.6,192.1 L748.2,194.2 L748.8,203.4 L749.4,209.7 L749.5,207.5 L750.0,209.4 L750.6,214.9 L751.2,225.9 L751.2,232.5 L751.8,232.8 L752.4,226.5 L753.0,211.1 L753.0,215.0 L753.6,211.4 L754.2,210.6 L754.8,208.5 L755.0,200.0 L755.4,198.9 L756.0,204.7 L756.6,216.7 L757.0,212.5 L757.2,221.8 L757.8,206.2 L758.4,181.7 L758.8,180.0 L759.0,179.4 L759.6,167.1 L760.2,159.7 L760.5,155.0 L760.8,149.2 L761.4,144.9 L762.0,140.5 L762.0,140.0 L762.6,141.3 L763.2,139.7 L763.8,138.8 L763.8,139.0 L764.4,139.6 L765.0,139.5 L765.5,141.2 L765.6,141.0 L766.2,144.9 L766.8,145.5 L767.4,150.1 L767.5,145.0 L768.0,144.5 L768.6,142.3 L769.2,138.6 L769.5,140.0 L769.8,142.5 L770.4,140.5 L771.0,157.6 L771.2,152.5 L771.6,147.7 L772.2,147.4 L772.8,140.6 L773.0,142.5 L773.4,142.6 L774.0,143.0 L774.6,152.9 L775.0,150.0 L775.2,150.3 L775.8,142.4 L776.4,138.9 L777.0,140.2 L777.0,140.0 L777.6,139.3 L778.2,138.5 L778.8,139.7 L779.4,138.9 L780.0,138.8 L780.0,138.8 L780.6,139.0 L781.2,139.8 L781.8,140.7 L782.4,139.3 L782.5,142.5 L783.0,142.9 L783.6,141.5 L784.2,138.2 L784.8,139.2 L785.0,138.8 L785.4,139.7 L786.0,139.4 L786.6,140.7 L787.2,139.6 L787.5,140.0 L787.8,140.5 L788.4,139.5 L789.0,141.0 L789.6,139.5 L790.0,145.0 L790.2,143.2 L790.8,151.8 L791.4,157.7 L792.0,165.4 L792.0,160.0 L792.6,154.4 L793.2,143.4 L793.8,140.0 L793.8,140.5 L794.4,140.7 L795.0,144.7 L795.5,142.5 L795.6,147.2 L796.2,153.1 L796.8,149.3 L797.4,158.4 L797.5,162.5 L798.0,167.4 L798.6,168.1 L799.2,179.6 L799.5,180.0 L799.8,180.6 L800.4,174.5 L801.0,164.6 L801.2,160.0 L801.6,158.2 L802.2,163.5 L802.8,172.2 L803.0,175.0 L803.4,186.4 L804.0,195.9 L804.6,201.2 L805.0,202.5 L805.2,206.3 L805.8,215.9 L806.4,224.6 L806.5,222.5 L807.0,220.7 L807.6,207.5 L808.0,195.0 L808.2,189.3 L808.8,209.8 L809.4,214.9 L809.5,215.0 L810.0,216.6 L810.6,226.6 L811.2,230.6 L811.2,230.0 L811.8,221.2 L812.4,202.7 L813.0,201.4 L813.0,200.0 L813.6,194.5 L814.2,182.5 L814.8,165.8 L815.0,170.0 L815.4,169.0 L816.0,164.6 L816.6,156.2 L817.2,151.5 L817.5,146.2 L817.8,148.0 L818.4,154.1 L819.0,167.9 L819.5,172.5 L819.6,171.2 L820.2,179.9 L820.8,201.3 L821.4,194.6 L821.5,192.5 L822.0,196.6 L822.6,192.3 L823.2,205.4 L823.5,207.5 L823.8,211.0 L824.4,202.9 L825.0,204.5 L825.5,205.0 L825.6,194.2 L826.2,213.5 L826.8,213.0 L827.4,224.6 L827.5,222.5 L828.0,232.7 L828.6,229.6 L829.2,239.8 L829.5,237.5 L829.8,241.3 L830.4,245.0 L831.0,250.6 L831.2,255.0 L831.6,244.3 L832.2,242.1 L832.8,227.3 L833.0,217.5 L833.4,208.1 L834.0,209.8 L834.6,194.5 L835.0,192.5 L835.2,183.2 L835.8,189.5 L836.4,169.9 L837.0,175.0 L837.5,162.5 L837.6,164.1 L838.2,175.1 L838.8,180.7 L839.4,191.4 L839.5,187.5 L840.0,194.9 L840.6,203.5 L841.2,209.4 L841.5,212.5 L841.8,220.2 L842.4,218.0 L843.0,230.3 L843.5,230.0 L843.6,237.8 L844.2,233.7 L844.8,240.0 L845.4,239.0 L845.5,242.5 L846.0,245.0 L846.6,253.0 L847.2,255.2 L847.5,260.0 L847.8,256.8 L848.4,264.1 L849.0,268.2 L849.5,270.0 L849.6,271.2 L850.2,268.7 L850.8,251.8 L851.4,263.2 L851.5,255.0 L852.0,252.6 L852.6,247.6 L853.0,250.0 L853.2,250.4 L853.8,263.5 L854.4,274.6 L855.0,277.4 L855.0,280.0 L855.6,308.3 L856.0,330.0 L856.2,315.3 L856.8,297.1 L857.0,285.0 L857.4,287.9 L857.5,290.0 L858.0,286.5 L858.6,291.3 L859.2,294.0 L859.8,288.4 L860.0,282.5 L860.4,276.1 L861.0,283.5 L861.6,270.0 L862.2,267.2 L862.5,265.0 L862.8,259.1 L863.4,257.1 L864.0,250.4 L864.6,241.1 L865.0,235.0 L865.2,232.2 L865.8,225.3 L866.4,216.8 L867.0,216.5 L867.5,205.0 L867.6,201.8 L868.2,196.9 L868.8,189.9 L869.4,180.4 L869.5,182.5 L870.0,176.9 L870.6,164.7 L871.2,168.0 L871.2,165.0 L871.8,172.7 L872.4,174.5 L873.0,189.8 L873.0,182.5 L873.6,182.1 L874.2,192.9 L874.5,192.5 L874.8,192.4 L875.4,181.3 L876.0,176.8 L876.2,175.0 L876.6,177.3 L877.2,168.9 L877.8,165.7 L878.0,162.5 L878.4,174.7 L879.0,177.8 L879.5,185.0 L879.6,177.5 L880.2,192.5 L880.8,210.6 L881.2,215.0 L881.4,215.6 L882.0,218.0 L882.5,230.0 L882.6,219.5 L883.2,223.5 L883.8,221.8 L884.4,200.6 L884.5,205.0 L885.0,190.8 L885.6,199.6 L886.2,189.9 L886.5,190.0 L886.8,186.7 L887.4,182.0 L888.0,174.6 L888.5,175.0 L888.6,176.5 L889.2,170.9 L889.8,160.1 L890.0,155.0 L890.4,151.7 L891.0,158.6 L891.5,152.5 L891.6,151.5 L892.2,149.2 L892.8,140.4 L893.0,140.0 L893.4,142.9 L894.0,146.8 L894.5,147.5 L894.6,151.9 L895.2,143.8 L895.8,140.7 L896.0,138.8 L896.4,139.6 L897.0,144.5 L897.5,145.0 L897.6,147.6 L898.2,153.7 L898.8,150.9 L899.4,150.5 L899.5,157.5 L900.0,160.0 L900.6,163.0 L901.2,164.1 L901.5,170.0 L901.8,175.5 L902.4,183.2 L903.0,186.5 L903.0,185.0 L903.6,189.1 L904.2,184.1 L904.8,175.8 L905.0,180.0 L905.4,179.7 L906.0,185.4 L906.6,195.0 L907.0,195.0 L907.2,198.1 L907.8,188.2 L908.4,186.5 L908.5,180.0 L909.0,178.8 L909.6,186.0 L910.2,197.7 L910.5,192.5 L910.8,196.8 L911.4,204.8 L912.0,195.3 L912.0,205.0 L912.6,192.6 L913.2,192.1 L913.8,196.9 L914.0,190.0 L914.4,196.3 L915.0,182.2 L915.6,177.4 L916.0,180.0 L916.2,176.7 L916.8,184.0 L917.4,197.9 L918.0,200.4 L918.0,202.5 L918.6,209.0 L919.2,200.3 L919.8,190.4 L920.0,192.5 L920.4,198.1 L921.0,203.6 L921.6,215.8 L922.0,217.5 L922.2,223.3 L922.8,222.4 L923.4,233.7 L924.0,237.4 L924.0,235.0 L924.6,235.3 L925.2,237.7 L925.8,240.6 L926.0,237.5 L926.4,230.3 L927.0,218.8 L927.6,218.6 L928.0,205.0 L928.2,203.5 L928.8,194.6 L929.4,193.8 L929.5,190.0 L930.0,186.6 L930.6,199.3 L931.2,197.5 L931.2,205.0 L931.8,195.8 L932.4,180.5 L933.0,177.2 L933.0,180.0 L933.6,183.0 L934.2,176.2 L934.8,169.7 L935.0,175.0 L935.4,180.9 L936.0,164.8 L936.6,170.7 L937.0,160.0 L937.2,157.6 L937.8,153.8 L938.4,170.8 L939.0,160.3 L939.0,162.5 L939.6,162.1 L940.2,159.7 L940.8,143.7 L941.0,147.5 L941.4,148.7 L942.0,147.3 L942.6,154.4 L943.0,152.5 L943.2,151.5 L943.8,143.0 L944.4,144.2 L945.0,141.2 L945.0,140.0 L945.6,140.6 L946.2,143.2 L946.8,142.1 L947.0,143.8 L947.4,142.8 L948.0,141.9 L948.6,140.0 L949.0,138.8 L949.2,139.7 L949.8,140.0 L950.4,140.4 L951.0,140.7 L951.0,140.0 L951.6,139.8 L952.2,138.4 L952.8,139.6 L953.0,138.8 L953.4,143.7 L954.0,146.0 L954.6,148.3 L955.0,152.5 L955.2,152.9 L955.8,161.3 L956.4,159.0 L957.0,155.0 L957.0,160.0 L957.6,161.3 L958.2,160.6 L958.8,165.6 L959.0,167.5 L959.4,164.5 L960.0,166.8 L960.6,180.6 L961.0,175.0 L961.2,180.6 L961.8,169.5 L962.4,174.5 L963.0,178.9 L963.0,181.2 L963.6,177.0 L964.2,169.5 L964.8,178.0 L965.0,172.5 L965.4,161.2 L966.0,166.4 L966.5,157.5 L966.6,160.3 L967.2,147.8 L967.8,140.8 L968.0,138.8 L968.4,142.7 L969.0,149.7 L969.5,155.0 L969.6,145.1 L970.2,153.0 L970.8,165.4 L971.4,166.1 L971.5,167.5 L972.0,168.1 L972.6,168.8 L973.0,176.2 L973.2,171.5 L973.8,165.7 L974.4,177.6 L974.5,162.5 L975.0,160.3 L975.6,179.2 L976.2,179.3 L976.5,180.0 L976.8,183.0 L977.4,187.4 L978.0,189.1 L978.5,195.0 L978.6,202.4 L979.2,191.0 L979.8,182.4 L980.0,180.0 L980.4,178.6 L981.0,178.6 L981.6,170.6 L982.0,175.0 L982.2,172.9 L982.8,169.2 L983.4,173.0 L984.0,170.7 L984.0,167.5 L984.6,156.6 L985.2,162.6 L985.5,162.5 L985.8,163.4 L986.4,143.6 L987.0,138.5 L987.0,138.8 L987.6,139.4 L988.2,138.7 L988.8,138.8 L989.0,137.0 Z" fill="#FFC0B6" stroke="none"/>
<path d="M88.8,527.7 L89.1,527.0 L89.5,526.6 L89.9,527.3 L90.2,527.3 L90.6,527.1 L91.0,526.6 L91.3,526.6 L91.7,525.0 L92.1,525.8 L92.5,526.6 L92.8,526.9 L93.2,527.9 L93.6,528.6 L93.9,528.6 L94.3,527.0 L94.7,527.0 L95.0,527.3 L95.4,526.2 L95.8,527.0 L96.2,526.0 L96.5,525.1 L96.9,526.5 L97.3,524.8 L97.6,524.5 L98.0,525.1 L98.4,525.0 L98.7,525.3 L99.1,526.3 L99.5,526.0 L99.9,527.3 L100.2,527.4 L100.6,528.1 L101.0,528.6 L101.3,529.9 L101.7,531.0 L102.1,528.8 L102.4,530.3 L102.8,531.2 L103.2,531.6 L103.6,532.2 L103.9,532.8 L104.3,532.2 L104.7,531.4 L105.0,530.9 L105.4,529.0 L105.8,528.3 L106.1,529.3 L106.5,528.7 L106.9,527.5 L107.3,527.6 L107.6,527.4 L108.0,525.7 L108.4,525.8 L108.7,525.4 L109.1,524.1 L109.5,522.6 L109.8,521.4 L110.2,521.0 L110.6,521.1 L111.0,521.5 L111.3,521.9 L111.7,521.3 L112.1,521.4 L112.4,520.9 L112.8,520.5 L113.2,520.6 L113.5,520.6 L113.9,519.2 L114.3,519.3 L114.7,518.3 L115.0,516.8 L115.4,517.5 L115.8,517.3 L116.1,517.0 L116.5,516.1 L116.9,517.2 L117.2,516.1 L117.6,515.7 L118.0,514.2 L118.4,514.3 L118.7,515.4 L119.1,515.9 L119.5,514.0 L119.8,514.4 L120.2,513.1 L120.6,514.3 L120.9,514.6 L121.3,516.2 L121.7,515.6 L122.1,515.9 L122.4,516.7 L122.8,516.1 L123.2,516.5 L123.5,517.1 L123.9,517.4 L124.3,517.3 L124.6,514.6 L125.0,513.4 L125.4,510.7 L125.8,510.8 L126.1,508.4 L126.5,506.5 L126.9,507.0 L127.2,505.1 L127.6,503.1 L128.0,501.8 L128.3,500.6 L128.7,501.7 L129.1,501.6 L129.5,503.6 L129.8,503.0 L130.2,502.5 L130.6,500.5 L130.9,499.5 L131.3,496.9 L131.7,495.7 L132.0,494.0 L132.4,495.1 L132.8,495.5 L133.2,495.2 L133.5,496.2 L133.9,495.3 L134.3,493.1 L134.6,494.0 L135.0,493.5 L135.4,494.2 L135.7,494.9 L136.1,496.2 L136.5,497.4 L136.9,496.1 L137.2,497.0 L137.6,494.3 L138.0,494.9 L138.3,494.0 L138.7,491.8 L139.1,490.5 L139.4,490.2 L139.8,490.4 L140.2,491.4 L140.6,492.6 L140.9,493.0 L141.3,492.8 L141.7,494.8 L142.0,492.4 L142.4,492.0 L142.8,492.1 L143.1,491.0 L143.5,490.6 L143.9,489.4 L144.3,492.5 L144.6,491.6 L145.0,492.1 L145.4,495.4 L145.7,493.9 L146.1,494.4 L146.5,495.3 L146.8,494.2 L147.2,495.1 L147.6,494.4 L148.0,492.8 L148.3,492.6 L148.7,490.6 L149.1,492.2 L149.4,488.7 L149.8,489.8 L150.2,489.5 L150.5,488.7 L150.9,487.4 L151.3,486.0 L151.7,487.9 L152.0,484.9 L152.4,485.2 L152.8,483.7 L153.1,485.6 L153.5,482.6 L153.9,484.4 L154.2,484.3 L154.6,482.6 L155.0,480.2 L155.4,481.5 L155.7,481.2 L156.1,482.4 L156.5,483.0 L156.8,483.6 L157.2,482.9 L157.6,483.5 L157.9,484.0 L158.3,484.5 L158.7,483.9 L159.1,486.1 L159.4,485.8 L159.8,485.7 L160.2,485.7 L160.5,486.1 L160.9,483.7 L161.3,486.5 L161.6,484.8 L162.0,486.2 L162.4,486.6 L162.8,488.0 L163.1,488.2 L163.5,489.5 L163.9,488.7 L164.2,489.9 L164.6,490.2 L165.0,490.6 L165.3,490.5 L165.7,488.1 L166.1,488.8 L166.5,486.3 L166.8,485.0 L167.2,483.4 L167.6,483.1 L167.9,481.0 L168.3,480.1 L168.7,478.0 L169.0,477.7 L169.4,476.1 L169.8,475.4 L170.2,474.8 L170.5,476.3 L170.9,476.2 L171.3,475.0 L171.6,476.8 L172.0,475.7 L172.4,474.1 L172.7,475.8 L173.1,473.5 L173.5,472.1 L173.9,471.3 L174.2,470.8 L174.6,472.1 L175.0,472.7 L175.3,473.6 L175.7,471.7 L176.1,471.4 L176.4,472.9 L176.8,472.7 L177.2,473.8 L177.6,474.4 L177.9,475.5 L178.3,478.1 L178.7,478.6 L179.0,478.3 L179.4,481.2 L179.8,482.0 L180.1,481.8 L180.5,481.9 L180.9,482.1 L181.3,480.3 L181.6,480.1 L182.0,479.9 L182.4,478.8 L182.7,479.6 L183.1,480.1 L183.5,480.7 L183.8,481.2 L184.2,482.3 L184.6,482.3 L185.0,480.1 L185.3,480.6 L185.7,481.6 L186.1,480.1 L186.4,478.9 L186.8,476.9 L187.2,475.1 L187.5,474.3 L187.9,475.2 L188.3,471.9 L188.7,470.9 L189.0,468.9 L189.4,467.9 L189.8,466.7 L190.1,465.7 L190.5,466.5 L190.9,467.9 L191.2,469.2 L191.6,470.6 L192.0,471.8 L192.4,473.0 L192.7,472.4 L193.1,472.7 L193.5,472.2 L193.8,470.0 L194.2,468.1 L194.6,467.9 L194.9,466.5 L195.3,465.3 L195.7,466.9 L196.1,466.9 L196.4,466.1 L196.8,465.7 L197.2,466.7 L197.5,466.3 L197.9,465.9 L198.3,466.6 L198.6,465.5 L199.0,465.3 L199.4,465.8 L199.8,467.5 L200.1,469.7 L200.5,468.5 L200.9,469.2 L201.2,470.8 L201.6,471.6 L202.0,472.0 L202.3,472.9 L202.7,471.6 L203.1,472.8 L203.5,474.7 L203.8,475.7 L204.2,477.1 L204.6,477.8 L204.9,476.2 L205.3,475.2 L205.7,475.1 L206.0,473.7 L206.4,472.8 L206.8,472.3 L207.2,472.5 L207.5,471.2 L207.9,470.7 L208.3,470.0 L208.6,468.2 L209.0,471.0 L209.4,472.9 L209.7,472.9 L210.1,474.9 L210.5,475.1 L210.9,476.7 L211.2,478.7 L211.6,480.9 L212.0,479.4 L212.3,481.5 L212.7,480.4 L213.1,482.2 L213.4,481.9 L213.8,482.8 L214.2,483.2 L214.6,484.5 L214.9,484.9 L215.3,484.3 L215.7,484.3 L216.0,483.1 L216.4,482.3 L216.8,480.4 L217.1,479.6 L217.5,477.1 L217.9,478.6 L218.3,478.5 L218.6,477.0 L219.0,476.3 L219.4,476.7 L219.7,477.6 L220.1,478.4 L220.5,481.1 L220.8,482.2 L221.2,481.3 L221.6,483.2 L222.0,481.2 L222.3,484.4 L222.7,486.7 L223.1,485.8 L223.4,486.9 L223.8,485.6 L224.2,482.4 L224.5,483.5 L224.9,484.3 L225.3,481.2 L225.7,479.4 L226.0,479.4 L226.4,478.3 L226.8,478.2 L227.1,477.0 L227.5,476.6 L227.9,476.9 L228.2,475.2 L228.6,476.5 L229.0,476.3 L229.4,475.9 L229.7,475.1 L230.1,474.9 L230.5,473.9 L230.8,474.2 L231.2,474.0 L231.6,472.3 L231.9,473.8 L232.3,473.4 L232.7,474.8 L233.1,474.5 L233.4,475.4 L233.8,475.7 L234.2,476.6 L234.5,477.7 L234.9,477.1 L235.3,477.0 L235.6,476.0 L236.0,475.4 L236.4,474.4 L236.8,474.7 L237.1,475.1 L237.5,476.2 L237.9,475.5 L238.2,477.5 L238.6,477.0 L239.0,478.6 L239.3,480.5 L239.7,479.6 L240.1,482.1 L240.5,483.7 L240.8,483.8 L241.2,486.9 L241.6,486.6 L241.9,487.8 L242.3,490.5 L242.7,492.0 L243.0,492.7 L243.4,493.6 L243.8,495.5 L244.2,497.6 L244.5,496.6 L244.9,496.2 L245.3,494.0 L245.6,492.7 L246.0,493.1 L246.4,491.6 L246.7,490.6 L247.1,492.2 L247.5,492.4 L247.9,492.3 L248.2,492.2 L248.6,491.8 L249.0,493.1 L249.3,491.1 L249.7,489.3 L250.1,489.8 L250.4,489.0 L250.8,488.7 L251.2,486.4 L251.6,486.6 L251.9,485.3 L252.3,485.3 L252.7,483.6 L253.0,484.1 L253.4,483.3 L253.8,481.9 L254.1,483.0 L254.5,481.8 L254.9,482.6 L255.3,481.5 L255.6,480.9 L256.0,479.5 L256.4,481.1 L256.7,480.6 L257.1,482.9 L257.5,483.2 L257.8,483.5 L258.2,483.6 L258.6,485.3 L259.0,484.3 L259.3,487.6 L259.7,488.3 L260.1,489.3 L260.4,488.6 L260.8,490.7 L261.2,489.5 L261.5,492.1 L261.9,492.7 L262.3,493.4 L262.7,493.4 L263.0,493.1 L263.4,492.7 L263.8,492.0 L264.1,491.9 L264.5,490.6 L264.9,491.4 L265.2,490.6 L265.6,492.2 L266.0,491.2 L266.4,494.2 L266.7,494.6 L267.1,495.3 L267.5,495.5 L267.8,495.0 L268.2,495.0 L268.6,494.2 L268.9,493.5 L269.3,493.9 L269.7,493.1 L270.1,491.6 L270.4,492.2 L270.8,491.7 L271.2,492.1 L271.5,492.0 L271.9,491.2 L272.3,490.7 L272.6,489.6 L273.0,490.5 L273.4,490.0 L273.8,491.1 L274.1,491.7 L274.5,493.2 L274.9,497.7 L275.2,496.1 L275.6,497.4 L276.0,497.2 L276.3,500.0 L276.7,500.1 L277.1,501.1 L277.5,501.9 L277.8,502.0 L278.2,502.8 L278.6,501.5 L278.9,501.5 L279.3,502.7 L279.7,499.2 L280.0,501.3 L280.4,501.5 L280.8,500.5 L281.2,501.0 L281.5,500.5 L281.9,503.8 L282.3,503.1 L282.6,505.1 L283.0,507.9 L283.4,510.1 L283.7,511.1 L284.1,510.6 L284.5,510.1 L284.9,508.1 L285.2,508.3 L285.6,508.7 L286.0,508.8 L286.3,507.9 L286.7,508.1 L287.1,509.6 L287.4,509.9 L287.8,511.0 L288.2,510.7 L288.6,508.7 L288.9,504.9 L289.3,501.8 L289.7,502.6 L290.0,501.4 L290.4,501.6 L290.8,500.2 L291.1,500.3 L291.5,500.2 L291.9,498.9 L292.3,497.8 L292.6,498.1 L293.0,499.3 L293.4,498.1 L293.7,497.1 L294.1,497.5 L294.5,497.3 L294.8,496.9 L295.2,497.6 L295.6,495.8 L296.0,495.4 L296.3,496.0 L296.7,497.0 L297.1,496.1 L297.4,498.4 L297.8,497.8 L298.2,498.1 L298.5,499.4 L298.9,498.1 L299.3,497.3 L299.7,493.9 L300.0,493.5 L300.4,492.4 L300.8,491.5 L301.1,492.9 L301.5,491.7 L301.9,491.3 L302.2,491.4 L302.6,489.1 L303.0,491.0 L303.4,492.3 L303.7,494.9 L304.1,493.1 L304.5,492.6 L304.8,493.7 L305.2,492.2 L305.6,493.4 L305.9,492.7 L306.3,494.2 L306.7,494.8 L307.1,494.1 L307.4,495.8 L307.8,494.9 L308.2,494.7 L308.5,493.6 L308.9,493.3 L309.3,493.8 L309.6,491.7 L310.0,487.9 L310.4,488.4 L310.8,486.7 L311.1,487.1 L311.5,486.2 L311.9,484.7 L312.2,483.4 L312.6,483.4 L313.0,484.7 L313.3,484.4 L313.7,485.8 L314.1,486.0 L314.5,487.3 L314.8,486.4 L315.2,486.2 L315.6,485.8 L315.9,486.8 L316.3,486.1 L316.7,486.0 L317.0,484.7 L317.4,484.1 L317.8,483.3 L318.2,483.2 L318.5,480.5 L318.9,482.1 L319.3,480.3 L319.6,480.6 L320.0,479.8 L320.4,480.0 L320.7,478.3 L321.1,476.4 L321.5,477.9 L321.9,478.0 L322.2,475.3 L322.6,475.4 L323.0,475.8 L323.3,475.2 L323.7,475.3 L324.1,475.8 L324.4,475.0 L324.8,475.6 L325.2,475.5 L325.6,473.6 L325.9,473.0 L326.3,474.5 L326.7,475.8 L327.0,473.1 L327.4,475.4 L327.8,474.2 L328.1,476.3 L328.5,475.8 L328.9,476.9 L329.3,474.9 L329.6,476.8 L330.0,476.8 L330.4,475.6 L330.7,475.8 L331.1,475.8 L331.5,477.7 L331.8,476.8 L332.2,476.2 L332.6,474.3 L333.0,475.3 L333.3,473.8 L333.7,472.6 L334.1,471.7 L334.4,469.3 L334.8,468.7 L335.2,470.1 L335.5,468.8 L335.9,469.0 L336.3,468.9 L336.7,470.3 L337.0,469.4 L337.4,470.8 L337.8,471.9 L338.1,472.0 L338.5,473.5 L338.9,473.7 L339.2,472.5 L339.6,473.1 L340.0,473.6 L340.4,472.9 L340.7,472.0 L341.1,475.4 L341.5,474.3 L341.8,474.3 L342.2,475.7 L342.6,477.4 L342.9,476.4 L343.3,477.5 L343.7,475.5 L344.1,475.0 L344.4,474.7 L344.8,475.4 L345.2,476.1 L345.5,475.6 L345.9,477.9 L346.3,476.8 L346.6,477.5 L347.0,477.6 L347.4,477.6 L347.8,477.4 L348.1,478.2 L348.5,477.1 L348.9,478.5 L349.2,477.0 L349.6,478.0 L350.0,476.0 L350.3,477.8 L350.7,481.3 L351.1,481.4 L351.5,481.5 L351.8,484.0 L352.2,485.2 L352.6,486.4 L352.9,488.0 L353.3,489.9 L353.7,490.8 L354.0,491.3 L354.4,491.0 L354.8,490.5 L355.2,489.0 L355.5,487.4 L355.9,487.8 L356.3,489.0 L356.6,487.9 L357.0,489.4 L357.4,487.5 L357.7,488.2 L358.1,486.6 L358.5,486.9 L358.9,487.6 L359.2,487.0 L359.6,487.2 L360.0,490.0 L360.3,487.8 L360.7,487.4 L361.1,488.4 L361.4,491.3 L361.8,489.6 L362.2,490.0 L362.6,489.6 L362.9,490.8 L363.3,489.6 L363.7,488.5 L364.0,487.0 L364.4,484.9 L364.8,485.5 L365.1,484.3 L365.5,482.5 L365.9,483.8 L366.3,483.4 L366.6,482.2 L367.0,483.6 L367.4,481.2 L367.7,483.6 L368.1,481.1 L368.5,481.0 L368.8,479.8 L369.2,481.2 L369.6,480.1 L370.0,478.4 L370.3,479.0 L370.7,477.5 L371.1,476.2 L371.4,475.6 L371.8,475.0 L372.2,472.8 L372.5,471.0 L372.9,472.8 L373.3,473.1 L373.7,470.9 L374.0,473.1 L374.4,472.5 L374.8,473.4 L375.1,473.1 L375.5,472.5 L375.9,470.7 L376.2,471.2 L376.6,469.9 L377.0,469.0 L377.4,468.9 L377.7,468.2 L378.1,468.4 L378.5,468.8 L378.8,466.9 L379.2,467.3 L379.6,466.9 L379.9,467.1 L380.3,467.5 L380.7,466.8 L381.1,463.5 L381.4,465.6 L381.8,465.1 L382.2,463.7 L382.5,464.1 L382.9,465.0 L383.3,462.9 L383.6,464.6 L384.0,464.7 L384.4,464.1 L384.8,464.9 L385.1,465.6 L385.5,467.2 L385.9,466.6 L386.2,465.0 L386.6,463.4 L387.0,462.7 L387.3,463.8 L387.7,461.5 L388.1,462.9 L388.5,462.2 L388.8,463.0 L389.2,465.4 L389.6,464.1 L389.9,465.8 L390.3,465.0 L390.7,465.4 L391.0,465.5 L391.4,463.2 L391.8,462.9 L392.2,461.3 L392.5,462.2 L392.9,461.7 L393.3,460.1 L393.6,461.3 L394.0,461.2 L394.4,461.2 L394.7,463.7 L395.1,460.8 L395.5,462.0 L395.9,461.2 L396.2,459.7 L396.6,459.1 L397.0,458.2 L397.3,455.2 L397.7,455.6 L398.1,456.4 L398.4,455.8 L398.8,453.9 L399.2,456.2 L399.6,453.9 L399.9,453.9 L400.3,453.1 L400.7,451.5 L401.0,452.9 L401.4,450.9 L401.8,452.9 L402.1,451.4 L402.5,449.9 L402.9,450.7 L403.3,452.3 L403.6,450.5 L404.0,453.1 L404.4,451.7 L404.7,450.5 L405.1,451.5 L405.5,451.8 L405.8,452.6 L406.2,453.9 L406.6,453.3 L407.0,452.9 L407.3,453.1 L407.7,453.7 L408.1,455.0 L408.4,452.8 L408.8,451.3 L409.2,450.7 L409.5,451.9 L409.9,449.7 L410.3,448.9 L410.7,447.8 L411.0,448.5 L411.4,446.9 L411.8,448.2 L412.1,447.9 L412.5,447.1 L412.9,444.7 L413.2,444.3 L413.6,443.9 L414.0,443.0 L414.4,445.9 L414.7,445.0 L415.1,441.0 L415.5,441.5 L415.8,443.2 L416.2,445.4 L416.6,447.0 L416.9,448.3 L417.3,448.3 L417.7,449.9 L418.1,449.7 L418.4,448.0 L418.8,450.6 L419.2,448.7 L419.5,450.0 L419.9,449.4 L420.3,451.4 L420.6,451.4 L421.0,450.4 L421.4,450.5 L421.8,449.6 L422.1,448.9 L422.5,450.7 L422.9,451.7 L423.2,448.8 L423.6,450.6 L424.0,451.5 L424.3,449.2 L424.7,449.2 L425.1,448.1 L425.5,448.1 L425.8,448.1 L426.2,446.1 L426.6,448.5 L426.9,447.3 L427.3,446.6 L427.7,445.0 L428.0,446.2 L428.4,447.4 L428.8,449.5 L429.2,450.4 L429.5,449.7 L429.9,450.6 L430.3,452.0 L430.6,452.8 L431.0,451.9 L431.4,452.0 L431.7,450.9 L432.1,449.6 L432.5,449.8 L432.9,448.7 L433.2,448.5 L433.6,446.7 L434.0,447.3 L434.3,445.2 L434.7,443.7 L435.1,444.4 L435.4,441.2 L435.8,441.4 L436.2,439.4 L436.6,440.1 L436.9,437.5 L437.3,437.2 L437.7,438.2 L438.0,436.4 L438.4,436.6 L438.8,435.9 L439.1,435.3 L439.5,436.0 L439.9,435.4 L440.3,436.0 L440.6,439.1 L441.0,438.3 L441.4,439.1 L441.7,439.9 L442.1,439.9 L442.5,440.5 L442.8,437.7 L443.2,439.2 L443.6,437.6 L444.0,437.8 L444.3,436.6 L444.7,435.9 L445.1,436.7 L445.4,437.9 L445.8,439.2 L446.2,441.2 L446.5,440.7 L446.9,440.7 L447.3,441.7 L447.7,439.5 L448.0,438.8 L448.4,438.0 L448.8,438.5 L449.1,436.8 L449.5,436.5 L449.9,435.6 L450.2,433.1 L450.6,435.3 L451.0,433.5 L451.4,432.4 L451.7,433.8 L452.1,432.3 L452.5,433.1 L452.8,431.1 L453.2,432.6 L453.6,431.2 L453.9,429.0 L454.3,429.7 L454.7,431.9 L455.1,431.6 L455.4,432.0 L455.8,429.2 L456.2,428.8 L456.5,428.1 L456.9,427.6 L457.3,427.3 L457.6,426.4 L458.0,424.0 L458.4,424.2 L458.8,422.0 L459.1,420.3 L459.5,417.9 L459.9,416.7 L460.2,415.6 L460.6,416.1 L461.0,419.8 L461.3,422.5 L461.7,424.3 L462.1,427.6 L462.5,428.3 L462.8,429.7 L463.2,430.5 L463.6,430.7 L463.9,431.7 L464.3,430.9 L464.7,430.8 L465.0,433.4 L465.4,431.4 L465.8,430.0 L466.2,431.1 L466.5,431.7 L466.9,430.8 L467.3,430.6 L467.6,430.7 L468.0,431.3 L468.4,435.2 L468.7,435.3 L469.1,435.7 L469.5,436.5 L469.9,439.2 L470.2,438.4 L470.6,438.0 L471.0,437.5 L471.3,437.8 L471.7,436.7 L472.1,433.4 L472.4,435.4 L472.8,436.2 L473.2,438.1 L473.6,439.2 L473.9,441.8 L474.3,441.5 L474.7,439.6 L475.0,438.4 L475.4,437.0 L475.8,435.5 L476.1,435.6 L476.5,435.3 L476.9,433.6 L477.3,433.8 L477.6,432.7 L478.0,430.3 L478.4,430.6 L478.7,430.8 L479.1,430.8 L479.5,428.9 L479.8,428.7 L480.2,427.6 L480.6,428.4 L481.0,427.5 L481.3,426.4 L481.7,424.9 L482.1,425.3 L482.4,422.8 L482.8,422.9 L483.2,422.2 L483.5,423.5 L483.9,423.6 L484.3,420.8 L484.7,422.9 L485.0,422.3 L485.4,419.6 L485.8,421.1 L486.1,420.9 L486.5,420.9 L486.9,420.8 L487.2,423.5 L487.6,425.0 L488.0,425.8 L488.4,426.8 L488.7,426.8 L489.1,429.4 L489.5,429.7 L489.8,427.2 L490.2,427.1 L490.6,424.4 L490.9,425.8 L491.3,422.8 L491.7,422.8 L492.1,423.0 L492.4,422.3 L492.8,421.5 L493.2,421.4 L493.5,420.9 L493.9,422.0 L494.3,418.1 L494.6,418.4 L495.0,420.0 L495.4,419.5 L495.8,420.7 L496.1,419.0 L496.5,417.7 L496.9,419.9 L497.2,419.9 L497.6,420.5 L498.0,422.8 L498.3,424.9 L498.7,423.1 L499.1,423.3 L499.5,423.7 L499.8,419.0 L500.2,418.8 L500.6,417.7 L500.9,416.7 L501.3,417.3 L501.7,414.1 L502.0,411.7 L502.4,411.6 L502.8,412.8 L503.2,411.2 L503.5,413.1 L503.9,410.3 L504.3,410.6 L504.6,409.8 L505.0,409.2 L505.4,408.1 L505.7,406.8 L506.1,406.5 L506.5,407.8 L506.9,406.4 L507.2,406.4 L507.6,405.5 L508.0,403.8 L508.3,406.1 L508.7,405.2 L509.1,403.9 L509.4,403.4 L509.8,402.3 L510.2,403.3 L510.6,402.6 L510.9,403.9 L511.3,401.1 L511.7,400.8 L512.0,399.3 L512.4,399.5 L512.8,399.7 L513.1,397.7 L513.5,397.5 L513.9,397.6 L514.3,400.1 L514.6,399.5 L515.0,398.7 L515.4,400.1 L515.7,403.3 L516.1,403.5 L516.5,404.7 L516.8,405.2 L517.2,405.6 L517.6,406.7 L518.0,408.9 L518.3,409.4 L518.7,409.4 L519.1,410.5 L519.4,413.1 L519.8,414.2 L520.2,413.2 L520.5,414.7 L520.9,415.5 L521.3,418.1 L521.7,420.4 L522.0,425.5 L522.4,424.7 L522.8,427.4 L523.1,428.6 L523.5,429.3 L523.9,429.8 L524.2,429.5 L524.6,430.0 L525.0,430.8 L525.4,432.1 L525.7,432.7 L526.1,432.9 L526.5,435.2 L526.8,435.4 L527.2,436.2 L527.6,435.7 L527.9,434.7 L528.3,430.2 L528.7,427.4 L529.1,424.8 L529.4,426.4 L529.8,425.8 L530.2,425.8 L530.5,423.8 L530.9,423.8 L531.3,425.4 L531.6,424.0 L532.0,423.1 L532.4,422.4 L532.8,420.1 L533.1,422.3 L533.5,421.2 L533.9,420.1 L534.2,420.8 L534.6,420.3 L535.0,420.2 L535.3,418.1 L535.7,420.2 L536.1,418.7 L536.5,419.1 L536.8,421.8 L537.2,422.5 L537.6,423.5 L537.9,421.7 L538.3,425.2 L538.7,422.7 L539.0,420.1 L539.4,421.0 L539.8,418.8 L540.2,417.3 L540.5,416.9 L540.9,416.2 L541.3,417.6 L541.6,417.8 L542.0,418.6 L542.4,420.4 L542.7,421.9 L543.1,421.0 L543.5,421.5 L543.9,419.8 L544.2,418.8 L544.6,418.4 L545.0,415.8 L545.3,416.2 L545.7,417.0 L546.1,417.6 L546.4,416.3 L546.8,417.9 L547.2,415.0 L547.6,418.1 L547.9,416.0 L548.3,417.9 L548.7,417.2 L549.0,418.7 L549.4,419.0 L549.8,418.9 L550.1,417.5 L550.5,416.6 L550.9,417.1 L551.3,416.6 L551.6,416.6 L552.0,414.6 L552.4,413.3 L552.7,412.4 L553.1,412.0 L553.5,413.3 L553.8,414.6 L554.2,415.3 L554.6,417.3 L555.0,420.6 L555.3,419.9 L555.7,421.0 L556.1,417.8 L556.4,419.1 L556.8,419.7 L557.2,417.5 L557.5,418.0 L557.9,417.9 L558.3,417.1 L558.7,415.3 L559.0,416.1 L559.4,414.5 L559.8,411.7 L560.1,412.5 L560.5,410.5 L560.9,408.3 L561.2,408.6 L561.6,406.3 L562.0,403.6 L562.4,404.9 L562.7,403.0 L563.1,401.0 L563.5,399.1 L563.8,400.1 L564.2,399.2 L564.6,401.7 L564.9,400.0 L565.3,398.2 L565.7,397.2 L566.1,398.5 L566.4,398.4 L566.8,396.9 L567.2,396.8 L567.5,396.0 L567.9,393.9 L568.3,394.5 L568.6,396.5 L569.0,398.7 L569.4,397.5 L569.8,397.6 L570.1,397.2 L570.5,397.3 L570.9,398.6 L571.2,398.6 L571.6,399.2 L572.0,397.1 L572.3,397.9 L572.7,398.3 L573.1,399.0 L573.5,401.3 L573.8,400.0 L574.2,396.0 L574.6,398.8 L574.9,395.3 L575.3,399.0 L575.7,400.8 L576.0,401.6 L576.4,407.1 L576.8,406.8 L577.2,408.8 L577.5,404.3 L577.9,402.7 L578.3,401.7 L578.6,398.9 L579.0,395.9 L579.4,393.4 L579.7,391.7 L580.1,389.3 L580.5,390.1 L580.9,389.5 L581.2,386.7 L581.6,386.4 L582.0,389.8 L582.3,387.4 L582.7,388.7 L583.1,388.9 L583.4,390.0 L583.8,392.3 L584.2,394.5 L584.6,392.1 L584.9,393.7 L585.3,392.4 L585.7,392.8 L586.0,393.7 L586.4,394.0 L586.8,392.5 L587.1,392.4 L587.5,391.2 L587.9,392.8 L588.3,392.8 L588.6,389.1 L589.0,390.0 L589.4,389.6 L589.7,391.3 L590.1,391.9 L590.5,394.5 L590.8,393.5 L591.2,396.9 L591.6,399.4 L592.0,397.2 L592.3,398.1 L592.7,398.7 L593.1,400.9 L593.4,403.1 L593.8,401.0 L594.2,402.9 L594.5,403.8 L594.9,406.0 L595.3,406.5 L595.7,406.5 L596.0,408.6 L596.4,410.1 L596.8,408.3 L597.1,409.6 L597.5,409.8 L597.9,410.6 L598.2,406.8 L598.6,408.9 L599.0,407.5 L599.4,408.8 L599.7,408.9 L600.1,409.9 L600.5,411.0 L600.8,409.9 L601.2,411.0 L601.6,408.8 L601.9,408.8 L602.3,406.4 L602.7,407.9 L603.1,406.4 L603.4,407.8 L603.8,409.3 L604.2,408.6 L604.5,410.1 L604.9,411.8 L605.3,410.0 L605.6,410.6 L606.0,413.1 L606.4,414.4 L606.8,414.7 L607.1,413.3 L607.5,414.2 L607.9,414.8 L608.2,413.4 L608.6,408.0 L609.0,405.9 L609.3,402.8 L609.7,398.5 L610.1,395.8 L610.5,396.8 L610.8,397.3 L611.2,398.5 L611.6,399.9 L611.9,400.4 L612.3,402.9 L612.7,401.6 L613.0,402.7 L613.4,399.5 L613.8,399.3 L614.2,397.6 L614.5,395.8 L614.9,396.2 L615.3,395.0 L615.6,395.3 L616.0,395.5 L616.4,393.5 L616.7,393.1 L617.1,393.3 L617.5,389.4 L617.9,391.1 L618.2,389.4 L618.6,390.0 L619.0,387.9 L619.3,387.0 L619.7,388.5 L620.1,387.9 L620.4,387.9 L620.8,386.7 L621.2,386.6 L621.6,385.6 L621.9,384.7 L622.3,385.8 L622.7,385.7 L623.0,384.9 L623.4,382.5 L623.8,386.2 L624.1,384.3 L624.5,385.3 L624.9,382.8 L625.3,381.2 L625.6,384.0 L626.0,382.0 L626.4,384.2 L626.7,381.9 L627.1,380.7 L627.5,384.9 L627.8,384.4 L628.2,384.0 L628.6,384.3 L629.0,386.2 L629.3,387.5 L629.7,385.2 L630.1,384.7 L630.4,381.6 L630.8,379.6 L631.2,380.5 L631.5,375.8 L631.9,377.9 L632.3,379.7 L632.7,377.6 L633.0,378.2 L633.4,379.1 L633.8,382.4 L634.1,383.7 L634.5,383.8 L634.9,382.9 L635.2,382.6 L635.6,381.8 L636.0,378.5 L636.4,377.7 L636.7,376.2 L637.1,379.3 L637.5,375.7 L637.8,376.7 L638.2,376.4 L638.6,377.7 L638.9,377.6 L639.3,377.6 L639.7,376.3 L640.1,377.3 L640.4,374.8 L640.8,377.9 L641.2,379.6 L641.5,379.4 L641.9,380.7 L642.3,382.5 L642.6,384.6 L643.0,384.0 L643.4,385.3 L643.8,382.3 L644.1,380.6 L644.5,377.3 L644.9,379.2 L645.2,378.7 L645.6,378.5 L646.0,382.1 L646.3,381.4 L646.7,381.9 L647.1,380.5 L647.5,385.8 L647.8,385.1 L648.2,387.5 L648.6,390.6 L648.9,393.3 L649.3,396.1 L649.7,401.4 L650.0,404.2 L650.4,403.3 L650.8,407.3 L651.2,414.1 L651.5,419.7 L651.9,424.9 L652.3,430.4 L652.6,449.2 L653.0,454.7 L653.4,461.1 L653.7,469.8 L654.1,480.6 L654.5,490.1 L654.9,488.9 L655.2,486.3 L655.6,482.3 L656.0,480.0 L656.3,477.3 L656.7,473.0 L657.1,471.2 L657.4,468.9 L657.8,460.6 L658.2,456.0 L658.6,455.9 L658.9,455.0 L659.3,455.7 L659.7,454.6 L660.0,453.0 L660.4,453.8 L660.8,452.9 L661.1,451.1 L661.5,453.3 L661.9,451.5 L662.3,450.0 L662.6,446.0 L663.0,441.4 L663.4,438.5 L663.7,433.9 L664.1,437.3 L664.5,439.6 L664.8,443.2 L665.2,446.2 L665.6,448.1 L666.0,449.7 L666.3,452.3 L666.7,455.1 L667.1,459.2 L667.4,461.0 L667.8,460.2 L668.2,459.2 L668.5,458.2 L668.9,456.4 L669.3,454.5 L669.7,453.4 L670.0,449.6 L670.4,446.8 L670.8,446.3 L671.1,444.8 L671.5,441.6 L671.9,437.5 L672.2,437.0 L672.6,432.5 L673.0,431.9 L673.4,432.1 L673.7,433.9 L674.1,434.8 L674.5,436.8 L674.8,438.9 L675.2,438.2 L675.6,435.3 L675.9,431.7 L676.3,429.3 L676.7,427.8 L677.1,424.8 L677.4,424.8 L677.8,424.8 L678.2,422.9 L678.5,421.9 L678.9,419.4 L679.3,418.2 L679.6,417.5 L680.0,417.2 L680.4,415.2 L680.8,413.9 L681.1,415.2 L681.5,414.2 L681.9,411.4 L682.2,410.7 L682.6,408.4 L683.0,407.8 L683.3,405.9 L683.7,405.0 L684.1,403.8 L684.5,403.6 L684.8,402.3 L685.2,400.6 L685.6,402.0 L685.9,403.0 L686.3,405.3 L686.7,407.9 L687.0,407.0 L687.4,407.9 L687.8,408.1 L688.2,404.3 L688.5,405.2 L688.9,405.0 L689.3,404.1 L689.6,401.9 L690.0,401.5 L690.4,401.5 L690.7,401.4 L691.1,399.1 L691.5,400.4 L691.9,399.3 L692.2,398.7 L692.6,397.6 L693.0,394.6 L693.3,393.9 L693.7,394.1 L694.1,396.0 L694.4,398.4 L694.8,400.1 L695.2,398.8 L695.6,400.6 L695.9,398.7 L696.3,396.6 L696.7,397.5 L697.0,398.5 L697.4,395.5 L697.8,395.4 L698.1,393.4 L698.5,399.7 L698.9,401.1 L699.3,405.6 L699.6,409.9 L700.0,413.8 L700.4,410.3 L700.7,407.1 L701.1,403.3 L701.5,400.6 L701.8,400.3 L702.2,399.4 L702.6,397.7 L703.0,394.5 L703.3,390.6 L703.7,392.3 L704.1,389.9 L704.4,386.7 L704.8,386.8 L705.2,385.0 L705.5,383.4 L705.9,385.1 L706.3,386.0 L706.7,384.2 L707.0,385.8 L707.4,385.6 L707.8,388.2 L708.1,385.8 L708.5,389.3 L708.9,389.0 L709.2,385.5 L709.6,384.8 L710.0,380.6 L710.4,377.2 L710.7,373.0 L711.1,370.3 L711.5,367.0 L711.8,362.6 L712.2,362.0 L712.6,363.5 L712.9,361.7 L713.3,359.1 L713.7,359.2 L714.1,358.7 L714.4,359.2 L714.8,358.9 L715.2,358.4 L715.5,359.2 L715.9,355.8 L716.3,355.7 L716.6,355.0 L717.0,354.9 L717.4,352.5 L717.8,350.5 L718.1,347.0 L718.5,346.3 L718.9,348.3 L719.2,344.2 L719.6,346.3 L720.0,344.1 L720.3,343.1 L720.7,341.3 L721.1,339.6 L721.5,343.0 L721.8,343.8 L722.2,345.2 L722.6,345.1 L722.9,343.3 L723.3,341.1 L723.7,338.0 L724.0,335.7 L724.4,336.1 L724.8,332.5 L725.2,329.3 L725.5,325.7 L725.9,322.1 L726.3,323.5 L726.6,320.4 L727.0,322.2 L727.4,322.0 L727.7,317.8 L728.1,320.2 L728.5,317.6 L728.9,320.3 L729.2,320.1 L729.6,319.9 L730.0,324.8 L730.3,331.7 L730.7,337.5 L731.1,338.1 L731.4,333.7 L731.8,325.3 L732.2,317.5 L732.6,316.2 L732.9,314.8 L733.3,312.7 L733.7,309.7 L734.0,310.4 L734.4,302.8 L734.8,303.6 L735.1,302.3 L735.5,302.0 L735.9,303.5 L736.3,306.1 L736.6,311.9 L737.0,310.0 L737.4,313.5 L737.7,317.0 L738.1,318.1 L738.5,322.4 L738.8,317.2 L739.2,316.4 L739.6,310.6 L740.0,306.7 L740.3,305.3 L740.7,307.0 L741.1,309.9 L741.4,314.0 L741.8,315.4 L742.2,313.5 L742.5,315.4 L742.9,315.9 L743.3,318.7 L743.7,321.7 L744.0,324.2 L744.4,328.6 L744.8,325.5 L745.1,323.5 L745.5,318.9 L745.9,316.8 L746.2,316.6 L746.6,319.2 L747.0,318.8 L747.4,322.0 L747.7,319.6 L748.1,324.6 L748.5,323.9 L748.8,326.8 L749.2,331.2 L749.6,330.4 L749.9,330.5 L750.3,332.0 L750.7,333.0 L751.1,333.6 L751.4,334.0 L751.8,331.8 L752.2,331.5 L752.5,330.2 L752.9,327.3 L753.3,324.7 L753.6,325.8 L754.0,320.0 L754.4,318.7 L754.8,323.2 L755.1,323.4 L755.5,325.1 L755.9,324.1 L756.2,325.2 L756.6,321.6 L757.0,320.0 L757.3,319.1 L757.7,317.1 L758.1,318.0 L758.5,315.1 L758.8,314.3 L759.2,309.9 L759.6,310.2 L759.9,309.1 L760.3,302.8 L760.7,302.2 L761.0,301.9 L761.4,302.9 L761.8,302.9 L762.2,300.1 L762.5,303.9 L762.9,299.3 L763.3,295.9 L763.6,299.8 L764.0,299.9 L764.4,297.3 L764.7,295.5 L765.1,297.4 L765.5,299.2 L765.9,294.9 L766.2,300.0 L766.6,296.5 L767.0,297.3 L767.3,295.5 L767.7,293.9 L768.1,298.3 L768.4,293.9 L768.8,296.3 L769.2,293.2 L769.6,296.2 L769.9,296.5 L770.3,292.0 L770.7,294.8 L771.0,295.3 L771.4,295.0 L771.8,297.0 L772.1,297.5 L772.5,297.4 L772.9,294.6 L773.3,298.5 L773.6,299.2 L774.0,297.4 L774.4,299.8 L774.7,301.0 L775.1,301.0 L775.5,296.7 L775.8,299.6 L776.2,299.4 L776.6,297.3 L777.0,291.3 L777.3,288.6 L777.7,285.5 L778.1,286.7 L778.4,284.8 L778.8,284.2 L779.2,283.4 L779.5,281.7 L779.9,279.8 L780.3,276.5 L780.7,277.3 L781.0,275.5 L781.4,276.6 L781.8,272.0 L782.1,273.4 L782.5,270.4 L782.9,264.8 L783.2,264.9 L783.6,263.8 L784.0,259.2 L784.4,260.9 L784.7,261.1 L785.1,256.4 L785.5,258.1 L785.8,257.7 L786.2,255.5 L786.6,255.6 L786.9,255.8 L787.3,251.8 L787.7,253.8 L788.1,255.9 L788.4,249.8 L788.8,248.2 L789.2,246.8 L789.5,246.4 L789.9,242.9 L790.3,245.5 L790.6,247.7 L791.0,243.1 L791.4,247.9 L791.8,246.5 L792.1,245.5 L792.5,246.3 L792.9,246.2 L793.2,242.1 L793.6,238.4 L794.0,238.4 L794.3,236.6 L794.7,237.7 L795.1,231.6 L795.5,231.5 L795.8,232.0 L796.2,230.9 L796.6,234.8 L796.9,235.1 L797.3,233.9 L797.7,231.2 L798.0,234.2 L798.4,236.3 L798.8,238.8 L799.2,238.6 L799.5,245.9 L799.9,241.1 L800.3,246.2 L800.6,241.9 L801.0,246.1 L801.4,242.2 L801.7,238.0 L802.1,238.0 L802.5,241.0 L802.9,242.5 L803.2,244.4 L803.6,250.1 L804.0,251.2 L804.3,251.5 L804.7,254.5 L805.1,257.3 L805.4,258.3 L805.8,262.3 L806.2,267.6 L806.6,268.3 L806.9,266.7 L807.3,261.3 L807.7,261.8 L808.0,255.4 L808.4,254.0 L808.8,250.5 L809.1,252.4 L809.5,250.9 L809.9,256.6 L810.3,261.4 L810.6,265.4 L811.0,272.3 L811.4,269.4 L811.7,268.4 L812.1,267.3 L812.5,265.9 L812.8,259.1 L813.2,258.4 L813.6,256.1 L814.0,251.2 L814.3,244.1 L814.7,244.7 L815.1,244.3 L815.4,239.9 L815.8,239.0 L816.2,237.9 L816.5,231.5 L816.9,231.3 L817.3,234.0 L817.7,234.2 L818.0,230.3 L818.4,236.2 L818.8,243.4 L819.1,243.0 L819.5,247.4 L819.9,250.8 L820.2,255.7 L820.6,259.6 L821.0,263.7 L821.4,258.2 L821.7,256.4 L822.1,254.8 L822.5,249.9 L822.8,251.0 L823.2,256.9 L823.6,254.5 L823.9,258.9 L824.3,262.9 L824.7,260.7 L825.1,257.8 L825.4,255.6 L825.8,256.5 L826.2,257.8 L826.5,263.3 L826.9,261.9 L827.3,270.4 L827.6,275.5 L828.0,276.3 L828.4,274.0 L828.8,283.6 L829.1,283.5 L829.5,287.1 L829.9,294.3 L830.2,292.6 L830.6,287.0 L831.0,280.4 L831.3,271.8 L831.7,266.3 L832.1,265.8 L832.5,263.3 L832.8,261.2 L833.2,261.3 L833.6,260.6 L833.9,262.3 L834.3,259.9 L834.7,259.6 L835.0,255.5 L835.4,253.9 L835.8,252.4 L836.2,250.1 L836.5,247.2 L836.9,245.0 L837.3,243.4 L837.6,243.1 L838.0,240.8 L838.4,241.6 L838.7,245.2 L839.1,249.9 L839.5,253.2 L839.9,252.1 L840.2,255.5 L840.6,258.4 L841.0,263.2 L841.3,263.2 L841.7,267.2 L842.1,269.1 L842.4,269.8 L842.8,271.4 L843.2,268.0 L843.6,263.8 L843.9,264.2 L844.3,266.3 L844.7,267.9 L845.0,273.7 L845.4,275.3 L845.8,282.2 L846.1,285.7 L846.5,288.6 L846.9,293.1 L847.3,293.0 L847.6,293.6 L848.0,291.7 L848.4,290.8 L848.7,287.5 L849.1,285.3 L849.5,279.1 L849.8,276.0 L850.2,276.1 L850.6,276.3 L851.0,276.9 L851.3,275.0 L851.7,276.2 L852.1,275.8 L852.4,279.3 L852.8,283.0 L853.2,288.9 L853.5,290.9 L853.9,294.0 L854.3,296.8 L854.7,297.2 L855.0,302.4 L855.4,299.4 L855.8,301.9 L856.1,297.3 L856.5,300.9 L856.9,298.7 L857.2,297.6 L857.6,297.2 L858.0,298.2 L858.4,295.0 L858.7,294.5 L859.1,292.6 L859.5,293.6 L859.8,286.4 L860.2,287.1 L860.6,287.6 L860.9,287.4 L861.3,282.2 L861.7,279.4 L862.1,278.4 L862.4,278.6 L862.8,280.1 L863.2,282.8 L863.5,278.3 L863.9,276.3 L864.3,274.0 L864.6,275.2 L865.0,272.0 L865.4,270.6 L865.8,264.0 L866.1,264.0 L866.5,265.2 L866.9,260.7 L867.2,256.2 L867.6,255.1 L868.0,255.0 L868.3,250.8 L868.7,250.5 L869.1,244.4 L869.5,246.6 L869.8,246.0 L870.2,248.1 L870.6,245.1 L870.9,243.8 L871.3,245.0 L871.7,246.7 L872.0,246.4 L872.4,248.1 L872.8,252.9 L873.2,251.2 L873.5,251.7 L873.9,256.3 L874.3,260.7 L874.6,257.2 L875.0,252.9 L875.4,252.2 L875.7,245.7 L876.1,246.4 L876.5,241.8 L876.9,238.6 L877.2,241.4 L877.6,238.0 L878.0,241.6 L878.3,246.1 L878.7,250.6 L879.1,251.8 L879.4,255.3 L879.8,257.2 L880.2,260.1 L880.6,262.0 L880.9,266.6 L881.3,268.1 L881.7,268.6 L882.0,269.0 L882.4,269.2 L882.8,267.4 L883.1,267.3 L883.5,264.0 L883.9,262.5 L884.3,259.9 L884.6,260.1 L885.0,253.4 L885.4,252.3 L885.7,248.1 L886.1,253.7 L886.5,251.0 L886.8,247.5 L887.2,246.6 L887.6,246.3 L888.0,246.8 L888.3,243.1 L888.7,242.3 L889.1,243.1 L889.4,239.5 L889.8,239.4 L890.2,235.6 L890.5,239.2 L890.9,236.0 L891.3,236.0 L891.7,234.6 L892.0,232.0 L892.4,232.0 L892.8,231.9 L893.1,227.7 L893.5,231.7 L893.9,226.8 L894.2,226.7 L894.6,226.0 L895.0,226.2 L895.4,222.4 L895.7,221.2 L896.1,219.1 L896.5,224.6 L896.8,226.3 L897.2,221.8 L897.6,225.2 L897.9,222.1 L898.3,225.3 L898.7,223.8 L899.1,223.0 L899.4,225.9 L899.8,222.4 L900.2,227.1 L900.5,231.1 L900.9,229.9 L901.3,231.2 L901.6,238.1 L902.0,237.3 L902.4,241.6 L902.8,239.7 L903.1,238.9 L903.5,240.7 L903.9,242.6 L904.2,241.4 L904.6,239.8 L905.0,237.5 L905.3,239.1 L905.7,240.6 L906.1,243.5 L906.5,241.8 L906.8,241.1 L907.2,242.3 L907.6,243.5 L907.9,240.8 L908.3,238.2 L908.7,239.3 L909.0,234.1 L909.4,239.3 L909.8,240.9 L910.2,243.2 L910.5,244.6 L910.9,246.6 L911.3,247.7 L911.6,248.3 L912.0,243.6 L912.4,245.5 L912.7,240.9 L913.1,242.5 L913.5,244.6 L913.9,241.6 L914.2,238.5 L914.6,238.4 L915.0,238.8 L915.3,236.9 L915.7,241.6 L916.1,239.6 L916.4,241.3 L916.8,241.7 L917.2,245.1 L917.6,243.0 L917.9,243.8 L918.3,243.2 L918.7,244.5 L919.0,245.0 L919.4,252.0 L919.8,252.8 L920.1,252.5 L920.5,254.2 L920.9,254.1 L921.3,254.5 L921.6,259.4 L922.0,258.3 L922.4,258.3 L922.7,257.7 L923.1,261.8 L923.5,257.6 L923.8,260.1 L924.2,259.2 L924.6,262.3 L925.0,261.0 L925.3,258.5 L925.7,259.9 L926.1,254.7 L926.4,251.7 L926.8,254.8 L927.2,246.4 L927.5,246.4 L927.9,246.8 L928.3,244.7 L928.7,244.4 L929.0,242.7 L929.4,242.6 L929.8,242.8 L930.1,245.0 L930.5,246.0 L930.9,243.9 L931.2,247.6 L931.6,243.0 L932.0,243.2 L932.4,237.0 L932.7,240.2 L933.1,238.3 L933.5,237.3 L933.8,235.6 L934.2,236.8 L934.6,234.8 L934.9,234.7 L935.3,230.6 L935.7,234.6 L936.1,231.3 L936.4,230.9 L936.8,232.9 L937.2,228.2 L937.5,225.1 L937.9,225.6 L938.3,226.1 L938.6,223.9 L939.0,226.0 L939.4,225.9 L939.8,230.1 L940.1,228.2 L940.5,225.9 L940.9,224.0 L941.2,221.0 L941.6,220.6 L942.0,225.2 L942.3,221.7 L942.7,221.6 L943.1,223.7 L943.5,218.2 L943.8,223.0 L944.2,222.6 L944.6,222.5 L944.9,218.5 L945.3,223.6 L945.7,221.3 L946.0,219.8 L946.4,220.1 L946.8,217.2 L947.2,220.3 L947.5,215.9 L947.9,211.2 L948.3,209.7 L948.6,207.1 L949.0,205.0 L949.4,201.1 L949.7,202.5 L950.1,202.3 L950.5,200.1 L950.9,198.3 L951.2,198.2 L951.6,193.4 L952.0,196.0 L952.3,192.2 L952.7,186.5 L953.1,191.0 L953.4,187.6 L953.8,189.4 L954.2,196.9 L954.6,195.5 L954.9,196.9 L955.3,198.5 L955.7,196.3 L956.0,201.2 L956.4,192.7 L956.8,200.0 L957.1,200.1 L957.5,202.4 L957.9,200.3 L958.3,203.9 L958.6,204.8 L959.0,205.7 L959.4,206.4 L959.7,203.7 L960.1,200.7 L960.5,201.4 L960.8,201.8 L961.2,204.5 L961.6,199.9 L962.0,205.3 L962.3,205.4 L962.7,203.5 L963.1,209.2 L963.4,205.9 L963.8,204.5 L964.2,206.9 L964.5,204.6 L964.9,202.5 L965.3,197.2 L965.7,191.7 L966.0,195.8 L966.4,192.0 L966.8,190.0 L967.1,192.3 L967.5,186.3 L967.9,187.2 L968.2,187.6 L968.6,192.7 L969.0,193.1 L969.4,196.3 L969.7,196.6 L970.1,197.0 L970.5,198.5 L970.8,200.1 L971.2,199.2 L971.6,202.3 L971.9,203.1 L972.3,200.1 L972.7,203.3 L973.1,204.6 L973.4,202.1 L973.8,203.4 L974.2,201.6 L974.5,200.2 L974.9,198.0 L975.3,202.3 L975.6,201.8 L976.0,209.1 L976.4,209.7 L976.8,209.1 L977.1,215.7 L977.5,217.9 L977.9,213.1 L978.2,215.0 L978.6,213.8 L979.0,209.4 L979.3,211.4 L979.7,212.2 L980.1,203.8 L980.5,208.6 L980.8,204.6 L981.2,205.0 L981.6,206.1 L981.9,204.5 L982.3,205.6 L982.7,204.8 L983.0,204.0 L983.4,201.7 L983.8,200.5 L984.2,197.1 L984.5,197.5 L984.9,199.3 L985.3,198.3 L985.6,196.6 L986.0,192.5 L986.4,185.7 L986.7,180.1 L987.0,173.8" fill="none" stroke="#DC0000" stroke-width="3.6" stroke-linejoin="round" stroke-linecap="butt"/>
<text x="75" y="144.0" text-anchor="end" class="ax">2.5</text>
<text x="75" y="221.4" text-anchor="end" class="ax">2</text>
<text x="75" y="298.8" text-anchor="end" class="ax">1.5</text>
<text x="75" y="376.2" text-anchor="end" class="ax">1</text>
<text x="75" y="453.7" text-anchor="end" class="ax">0.5</text>
<text x="75" y="531.1" text-anchor="end" class="ax">0</text>
<text x="75" y="608.5" text-anchor="end" class="ax">−0.5</text>
<text x="1001.5" y="144.0" class="ax">0</text>
<text x="1001.5" y="202.1" class="ax">−0.05</text>
<text x="1001.5" y="260.1" class="ax">−0.1</text>
<text x="1001.5" y="318.2" class="ax">−0.15</text>
<text x="1001.5" y="376.2" class="ax">−0.2</text>
<text x="1001.5" y="434.3" class="ax">−0.25</text>
<text x="1001.5" y="492.4" class="ax">−0.3</text>
<text x="1001.5" y="550.4" class="ax">−0.35</text>
<text x="1001.5" y="608.5" class="ax">−0.4</text>
<text x="88.8" y="633" text-anchor="middle" class="ax axx">2013/12</text>
<text x="178.8" y="633" text-anchor="middle" class="ax axx">2014/12</text>
<text x="268.8" y="633" text-anchor="middle" class="ax axx">2015/12</text>
<text x="358.8" y="633" text-anchor="middle" class="ax axx">2016/12</text>
<text x="448.8" y="633" text-anchor="middle" class="ax axx">2017/12</text>
<text x="538.8" y="633" text-anchor="middle" class="ax axx">2018/12</text>
<text x="628.8" y="633" text-anchor="middle" class="ax axx">2019/12</text>
<text x="718.8" y="633" text-anchor="middle" class="ax axx">2020/12</text>
<text x="808.8" y="633" text-anchor="middle" class="ax axx">2021/12</text>
<text x="898.8" y="633" text-anchor="middle" class="ax axx">2022/12</text>

</svg>
<div class="foot"><span class="k">数据统计区间：</span><span class="n">2013/12/9-2023/12/6</span></div>
</body>
</html>
